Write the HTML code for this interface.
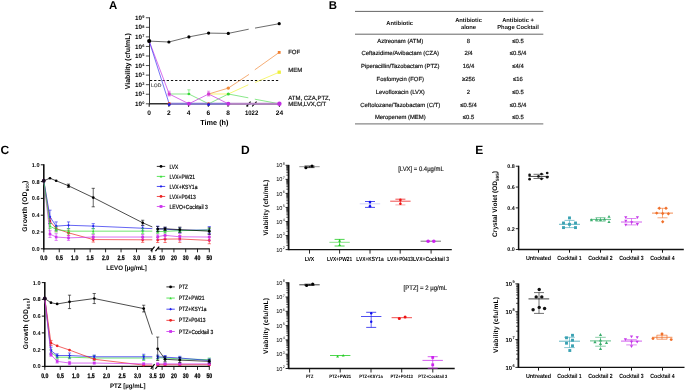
<!DOCTYPE html>
<html><head><meta charset="utf-8"><style>
html,body{margin:0;padding:0;background:#fff;}
svg{display:block;font-family:"Liberation Sans", sans-serif;will-change:transform;text-rendering:geometricPrecision;}
</style></head><body>
<svg width="685" height="390" viewBox="0 0 685 390">
<rect width="685" height="390" fill="#fff"/>
<text x="109.00" y="9.20" font-size="11.4" text-anchor="start" font-weight="bold" fill="#000" >A</text>
<line x1="149.50" y1="17.36" x2="149.50" y2="104.40" stroke="#222" stroke-width="0.9" />
<line x1="145.90" y1="103.80" x2="149.50" y2="103.80" stroke="#222" stroke-width="0.8" />
<text x="144.50" y="105.90" font-size="6.3" text-anchor="end" font-weight="bold">10<tspan font-size="3.91" dx="0.4" dy="-1.89">0</tspan></text>
<line x1="145.90" y1="94.24" x2="149.50" y2="94.24" stroke="#222" stroke-width="0.8" />
<text x="144.50" y="96.34" font-size="6.3" text-anchor="end" font-weight="bold">10<tspan font-size="3.91" dx="0.4" dy="-1.89">1</tspan></text>
<line x1="145.90" y1="84.68" x2="149.50" y2="84.68" stroke="#222" stroke-width="0.8" />
<text x="144.50" y="86.78" font-size="6.3" text-anchor="end" font-weight="bold">10<tspan font-size="3.91" dx="0.4" dy="-1.89">2</tspan></text>
<line x1="145.90" y1="75.12" x2="149.50" y2="75.12" stroke="#222" stroke-width="0.8" />
<text x="144.50" y="77.22" font-size="6.3" text-anchor="end" font-weight="bold">10<tspan font-size="3.91" dx="0.4" dy="-1.89">3</tspan></text>
<line x1="145.90" y1="65.56" x2="149.50" y2="65.56" stroke="#222" stroke-width="0.8" />
<text x="144.50" y="67.66" font-size="6.3" text-anchor="end" font-weight="bold">10<tspan font-size="3.91" dx="0.4" dy="-1.89">4</tspan></text>
<line x1="145.90" y1="56.00" x2="149.50" y2="56.00" stroke="#222" stroke-width="0.8" />
<text x="144.50" y="58.10" font-size="6.3" text-anchor="end" font-weight="bold">10<tspan font-size="3.91" dx="0.4" dy="-1.89">5</tspan></text>
<line x1="145.90" y1="46.44" x2="149.50" y2="46.44" stroke="#222" stroke-width="0.8" />
<text x="144.50" y="48.54" font-size="6.3" text-anchor="end" font-weight="bold">10<tspan font-size="3.91" dx="0.4" dy="-1.89">6</tspan></text>
<line x1="145.90" y1="36.88" x2="149.50" y2="36.88" stroke="#222" stroke-width="0.8" />
<text x="144.50" y="38.98" font-size="6.3" text-anchor="end" font-weight="bold">10<tspan font-size="3.91" dx="0.4" dy="-1.89">7</tspan></text>
<line x1="145.90" y1="27.32" x2="149.50" y2="27.32" stroke="#222" stroke-width="0.8" />
<text x="144.50" y="29.42" font-size="6.3" text-anchor="end" font-weight="bold">10<tspan font-size="3.91" dx="0.4" dy="-1.89">8</tspan></text>
<line x1="145.90" y1="17.76" x2="149.50" y2="17.76" stroke="#222" stroke-width="0.8" />
<text x="144.50" y="19.86" font-size="6.3" text-anchor="end" font-weight="bold">10<tspan font-size="3.91" dx="0.4" dy="-1.89">9</tspan></text>
<text transform="translate(129.6,61.2) rotate(-90)" font-size="7" font-weight="bold" text-anchor="middle">Viability (cfu/mL)</text>
<line x1="149.50" y1="103.80" x2="250.60" y2="103.80" stroke="#333" stroke-width="1.5" />
<line x1="252.20" y1="103.80" x2="279.60" y2="103.80" stroke="#333" stroke-width="1.5" />
<line x1="149.20" y1="103.80" x2="149.20" y2="106.80" stroke="#111" stroke-width="1.0" />
<text x="149.20" y="114.80" font-size="6.6" text-anchor="middle" font-weight="bold" fill="#000" >0</text>
<line x1="168.90" y1="103.80" x2="168.90" y2="106.80" stroke="#111" stroke-width="1.0" />
<text x="168.90" y="114.80" font-size="6.6" text-anchor="middle" font-weight="bold" fill="#000" >2</text>
<line x1="188.60" y1="103.80" x2="188.60" y2="106.80" stroke="#111" stroke-width="1.0" />
<text x="188.60" y="114.80" font-size="6.6" text-anchor="middle" font-weight="bold" fill="#000" >4</text>
<line x1="208.30" y1="103.80" x2="208.30" y2="106.80" stroke="#111" stroke-width="1.0" />
<text x="208.30" y="114.80" font-size="6.6" text-anchor="middle" font-weight="bold" fill="#000" >6</text>
<line x1="228.00" y1="103.80" x2="228.00" y2="106.80" stroke="#111" stroke-width="1.0" />
<text x="228.00" y="114.80" font-size="6.6" text-anchor="middle" font-weight="bold" fill="#000" >8</text>
<line x1="279.40" y1="103.80" x2="279.40" y2="106.80" stroke="#111" stroke-width="1.0" />
<text x="279.40" y="114.80" font-size="6.6" text-anchor="middle" font-weight="bold" fill="#000" >24</text>
<line x1="247.70" y1="103.80" x2="247.70" y2="106.80" stroke="#111" stroke-width="1.0" />
<text x="251.60" y="114.80" font-size="6.6" text-anchor="middle" font-weight="bold" fill="#000"  textLength="13.3" lengthAdjust="spacingAndGlyphs">1022</text>
<line x1="246.40" y1="106.30" x2="250.60" y2="101.70" stroke="#000" stroke-width="1.1" />
<line x1="252.20" y1="106.30" x2="256.60" y2="101.70" stroke="#000" stroke-width="1.1" />
<text x="214.40" y="124.80" font-size="7.3" text-anchor="middle" font-weight="bold" fill="#000" >Time (h)</text>
<line x1="149.90" y1="80.50" x2="279.00" y2="80.50" stroke="#111" stroke-width="1.0" stroke-dasharray="2.3,1.9"/>
<text x="151.00" y="86.60" font-size="5.0" text-anchor="start" font-weight="normal" fill="#555"  stroke="#555" stroke-width="0.18">LOD</text>
<polyline points="169.20,94.00 188.90,94.00 208.60,103.80 228.30,94.00 248.30,97.80" fill="none" stroke="#3ad83a" stroke-width="0.6" />
<polyline points="254.80,99.20 279.40,103.80" fill="none" stroke="#3ad83a" stroke-width="0.6" />
<polyline points="208.60,94.00 228.30,94.00 248.30,84.80" fill="none" stroke="#f2f23a" stroke-width="0.7" />
<polyline points="255.00,82.50 279.20,72.20" fill="none" stroke="#f2f23a" stroke-width="0.7" />
<polyline points="208.60,94.00 228.30,88.10 249.00,74.40" fill="none" stroke="#f08a3a" stroke-width="0.7" />
<polyline points="254.80,69.80 279.20,52.40" fill="none" stroke="#f08a3a" stroke-width="0.7" />
<line x1="169.20" y1="103.80" x2="228.30" y2="103.80" stroke="#8479d2" stroke-width="2.0" />
<line x1="228.30" y1="103.80" x2="279.40" y2="103.80" stroke="#b585c6" stroke-width="2.0" />
<polyline points="149.20,41.10 169.20,94.00 188.90,103.80 208.60,94.00 228.30,103.80" fill="none" stroke="#cc3ee6" stroke-width="0.75" />
<polyline points="149.20,41.10 169.20,103.80" fill="none" stroke="#3a3af0" stroke-width="0.7" />
<polyline points="149.20,41.10 168.90,42.00 188.90,36.90 208.60,33.10 228.30,33.40 248.70,29.20" fill="none" stroke="#111" stroke-width="0.62" />
<polyline points="255.00,28.10 279.20,23.70" fill="none" stroke="#111" stroke-width="0.62" />
<circle cx="168.90" cy="42.00" r="1.6" fill="#000"/>
<circle cx="188.90" cy="36.90" r="1.6" fill="#000"/>
<circle cx="208.60" cy="33.10" r="1.6" fill="#000"/>
<circle cx="228.30" cy="33.40" r="1.6" fill="#000"/>
<circle cx="279.20" cy="23.70" r="1.6" fill="#000"/>
<circle cx="149.20" cy="41.10" r="2.1" fill="#000"/>
<circle cx="169.20" cy="103.80" r="1.7" fill="#e04020"/>
<circle cx="169.20" cy="104.60" r="1.5" fill="#2020e0"/>
<rect x="167.70" y="92.50" width="3.0" height="3.0" fill="#d23cd2"/>
<line x1="169.20" y1="91.20" x2="169.20" y2="96.00" stroke="#d23cd2" stroke-width="0.5" />
<line x1="167.60" y1="91.20" x2="170.80" y2="91.20" stroke="#d23cd2" stroke-width="0.5" />
<line x1="167.60" y1="96.00" x2="170.80" y2="96.00" stroke="#d23cd2" stroke-width="0.5" />
<circle cx="188.90" cy="94.00" r="1.3" fill="#3ad83a"/>
<line x1="188.90" y1="89.80" x2="188.90" y2="94.00" stroke="#3ad83a" stroke-width="0.5" />
<line x1="187.30" y1="89.80" x2="190.50" y2="89.80" stroke="#3ad83a" stroke-width="0.5" />
<line x1="187.30" y1="94.00" x2="190.50" y2="94.00" stroke="#3ad83a" stroke-width="0.5" />
<circle cx="188.90" cy="103.80" r="2.0" fill="#c030e0"/>
<rect x="207.10" y="92.50" width="3.0" height="3.0" fill="#d23cd2"/>
<line x1="208.60" y1="91.20" x2="208.60" y2="96.00" stroke="#d23cd2" stroke-width="0.5" />
<line x1="207.00" y1="91.20" x2="210.20" y2="91.20" stroke="#d23cd2" stroke-width="0.5" />
<line x1="207.00" y1="96.00" x2="210.20" y2="96.00" stroke="#d23cd2" stroke-width="0.5" />
<circle cx="208.60" cy="103.80" r="1.6" fill="#e04020"/>
<circle cx="208.60" cy="104.60" r="1.5" fill="#2020e0"/>
<circle cx="228.30" cy="88.10" r="1.7" fill="#f08a3a"/>
<circle cx="228.30" cy="94.00" r="1.6" fill="#3ad83a"/>
<circle cx="228.30" cy="103.80" r="2.0" fill="#c030e0"/>
<circle cx="279.40" cy="103.80" r="2.2" fill="#c030e0"/>
<rect x="277.55" y="70.55" width="3.3" height="3.3" fill="#eef03a"/>
<rect x="277.80" y="51.00" width="2.8" height="2.8" fill="#f07f30"/>
<text x="288.20" y="54.20" font-size="6" text-anchor="start" font-weight="normal" fill="#111"  stroke="#111" stroke-width="0.18">FOF</text>
<text x="288.20" y="72.00" font-size="6" text-anchor="start" font-weight="normal" fill="#111"  stroke="#111" stroke-width="0.18">MEM</text>
<text x="288.20" y="99.80" font-size="6" text-anchor="start" font-weight="normal" fill="#111"  stroke="#111" stroke-width="0.18">ATM, CZA,PTZ,</text>
<text x="288.20" y="106.40" font-size="6" text-anchor="start" font-weight="normal" fill="#111"  stroke="#111" stroke-width="0.18">MEM,LVX,C/T</text>
<text x="328.80" y="9.20" font-size="11.4" text-anchor="start" font-weight="bold" fill="#000" >B</text>
<line x1="355.00" y1="11.40" x2="543.30" y2="11.40" stroke="#555" stroke-width="0.9" />
<line x1="355.00" y1="34.20" x2="543.30" y2="34.20" stroke="#555" stroke-width="0.9" />
<line x1="355.00" y1="123.80" x2="543.30" y2="123.80" stroke="#888" stroke-width="1.2" />
<text x="399.70" y="25.20" font-size="5.8" text-anchor="middle" font-weight="bold" fill="#111" >Antibiotic</text>
<text x="468.50" y="21.70" font-size="5.8" text-anchor="middle" font-weight="bold" fill="#111" >Antibiotic</text>
<text x="468.50" y="28.70" font-size="5.8" text-anchor="middle" font-weight="bold" fill="#111" >alone</text>
<text x="518.00" y="21.70" font-size="5.8" text-anchor="middle" font-weight="bold" fill="#111" >Antibiotic +</text>
<text x="518.00" y="28.70" font-size="5.8" text-anchor="middle" font-weight="bold" fill="#111" >Phage Cocktail</text>
<text x="400.30" y="43.00" font-size="5.9" text-anchor="middle" font-weight="normal" fill="#111"  stroke="#111" stroke-width="0.18">Aztreonam (ATM)</text>
<text x="468.50" y="43.00" font-size="5.9" text-anchor="middle" font-weight="normal" fill="#111"  stroke="#111" stroke-width="0.18">8</text>
<text x="518.00" y="43.00" font-size="5.9" text-anchor="middle" font-weight="normal" fill="#111"  stroke="#111" stroke-width="0.18">≤0.5</text>
<text x="400.30" y="55.40" font-size="5.9" text-anchor="middle" font-weight="normal" fill="#111"  stroke="#111" stroke-width="0.18">Ceftazidime/Avibactam (CZA)</text>
<text x="468.50" y="55.40" font-size="5.9" text-anchor="middle" font-weight="normal" fill="#111"  stroke="#111" stroke-width="0.18">2/4</text>
<text x="518.00" y="55.40" font-size="5.9" text-anchor="middle" font-weight="normal" fill="#111"  stroke="#111" stroke-width="0.18">≤0.5/4</text>
<text x="400.30" y="67.90" font-size="5.9" text-anchor="middle" font-weight="normal" fill="#111"  stroke="#111" stroke-width="0.18">Piperacillin/Tazobactam (PTZ)</text>
<text x="468.50" y="67.90" font-size="5.9" text-anchor="middle" font-weight="normal" fill="#111"  stroke="#111" stroke-width="0.18">16/4</text>
<text x="518.00" y="67.90" font-size="5.9" text-anchor="middle" font-weight="normal" fill="#111"  stroke="#111" stroke-width="0.18">≤4/4</text>
<text x="400.30" y="81.00" font-size="5.9" text-anchor="middle" font-weight="normal" fill="#111"  stroke="#111" stroke-width="0.18">Fosfomycin (FOF)</text>
<text x="468.50" y="81.00" font-size="5.9" text-anchor="middle" font-weight="normal" fill="#111"  stroke="#111" stroke-width="0.18">≥256</text>
<text x="518.00" y="81.00" font-size="5.9" text-anchor="middle" font-weight="normal" fill="#111"  stroke="#111" stroke-width="0.18">≤16</text>
<text x="400.30" y="93.70" font-size="5.9" text-anchor="middle" font-weight="normal" fill="#111"  stroke="#111" stroke-width="0.18">Levofloxacin (LVX)</text>
<text x="468.50" y="93.70" font-size="5.9" text-anchor="middle" font-weight="normal" fill="#111"  stroke="#111" stroke-width="0.18">2</text>
<text x="518.00" y="93.70" font-size="5.9" text-anchor="middle" font-weight="normal" fill="#111"  stroke="#111" stroke-width="0.18">≤0.5</text>
<text x="400.30" y="106.50" font-size="5.9" text-anchor="middle" font-weight="normal" fill="#111"  stroke="#111" stroke-width="0.18">Ceftolozane/Tazobactam (C/T)</text>
<text x="468.50" y="106.50" font-size="5.9" text-anchor="middle" font-weight="normal" fill="#111"  stroke="#111" stroke-width="0.18">≤0.5/4</text>
<text x="518.00" y="106.50" font-size="5.9" text-anchor="middle" font-weight="normal" fill="#111"  stroke="#111" stroke-width="0.18">≤0.5/4</text>
<text x="400.30" y="119.00" font-size="5.9" text-anchor="middle" font-weight="normal" fill="#111"  stroke="#111" stroke-width="0.18">Meropenem (MEM)</text>
<text x="468.50" y="119.00" font-size="5.9" text-anchor="middle" font-weight="normal" fill="#111"  stroke="#111" stroke-width="0.18">≤0.5</text>
<text x="518.00" y="119.00" font-size="5.9" text-anchor="middle" font-weight="normal" fill="#111"  stroke="#111" stroke-width="0.18">≤0.5</text>
<text x="0.60" y="153.80" font-size="12" text-anchor="start" font-weight="bold" fill="#000" >C</text>
<line x1="43.80" y1="164.30" x2="43.80" y2="249.60" stroke="#111" stroke-width="1.6" />
<line x1="40.80" y1="248.80" x2="43.80" y2="248.80" stroke="#111" stroke-width="1.0" />
<text x="39.60" y="250.80" font-size="5.6" text-anchor="end" font-weight="bold" fill="#000" >0.0</text>
<line x1="40.80" y1="232.00" x2="43.80" y2="232.00" stroke="#111" stroke-width="1.0" />
<text x="39.60" y="234.00" font-size="5.6" text-anchor="end" font-weight="bold" fill="#000" >0.2</text>
<line x1="40.80" y1="215.20" x2="43.80" y2="215.20" stroke="#111" stroke-width="1.0" />
<text x="39.60" y="217.20" font-size="5.6" text-anchor="end" font-weight="bold" fill="#000" >0.4</text>
<line x1="40.80" y1="198.40" x2="43.80" y2="198.40" stroke="#111" stroke-width="1.0" />
<text x="39.60" y="200.40" font-size="5.6" text-anchor="end" font-weight="bold" fill="#000" >0.6</text>
<line x1="40.80" y1="181.60" x2="43.80" y2="181.60" stroke="#111" stroke-width="1.0" />
<text x="39.60" y="183.60" font-size="5.6" text-anchor="end" font-weight="bold" fill="#000" >0.8</text>
<line x1="40.80" y1="164.80" x2="43.80" y2="164.80" stroke="#111" stroke-width="1.0" />
<text x="39.60" y="166.80" font-size="5.6" text-anchor="end" font-weight="bold" fill="#000" >1.0</text>
<text transform="translate(27.20,206.20) rotate(-90)" font-size="6.8" font-weight="bold" text-anchor="middle" textLength="51" lengthAdjust="spacing">Growth (OD<tspan font-size="4.6" dy="1.5">600</tspan><tspan dy="-1.5">)</tspan></text>
<line x1="43.80" y1="248.80" x2="152.30" y2="248.80" stroke="#111" stroke-width="1.3" />
<line x1="158.00" y1="248.80" x2="209.80" y2="248.80" stroke="#111" stroke-width="1.3" />
<line x1="43.80" y1="248.80" x2="43.80" y2="252.30" stroke="#111" stroke-width="0.9" />
<text x="43.80" y="259.90" font-size="6.6" text-anchor="middle" font-weight="bold" fill="#000" stroke="#000" stroke-width="0.25" textLength="7.2" lengthAdjust="spacingAndGlyphs">0.0</text>
<line x1="59.25" y1="248.80" x2="59.25" y2="252.30" stroke="#111" stroke-width="0.9" />
<text x="59.25" y="259.90" font-size="6.6" text-anchor="middle" font-weight="bold" fill="#000" stroke="#000" stroke-width="0.25" textLength="7.2" lengthAdjust="spacingAndGlyphs">0.5</text>
<line x1="74.70" y1="248.80" x2="74.70" y2="252.30" stroke="#111" stroke-width="0.9" />
<text x="74.70" y="259.90" font-size="6.6" text-anchor="middle" font-weight="bold" fill="#000" stroke="#000" stroke-width="0.25" textLength="7.2" lengthAdjust="spacingAndGlyphs">1.0</text>
<line x1="90.15" y1="248.80" x2="90.15" y2="252.30" stroke="#111" stroke-width="0.9" />
<text x="90.15" y="259.90" font-size="6.6" text-anchor="middle" font-weight="bold" fill="#000" stroke="#000" stroke-width="0.25" textLength="7.2" lengthAdjust="spacingAndGlyphs">1.5</text>
<line x1="105.60" y1="248.80" x2="105.60" y2="252.30" stroke="#111" stroke-width="0.9" />
<text x="105.60" y="259.90" font-size="6.6" text-anchor="middle" font-weight="bold" fill="#000" stroke="#000" stroke-width="0.25" textLength="7.2" lengthAdjust="spacingAndGlyphs">2.0</text>
<line x1="121.05" y1="248.80" x2="121.05" y2="252.30" stroke="#111" stroke-width="0.9" />
<text x="121.05" y="259.90" font-size="6.6" text-anchor="middle" font-weight="bold" fill="#000" stroke="#000" stroke-width="0.25" textLength="7.2" lengthAdjust="spacingAndGlyphs">2.5</text>
<line x1="136.50" y1="248.80" x2="136.50" y2="252.30" stroke="#111" stroke-width="0.9" />
<text x="136.50" y="259.90" font-size="6.6" text-anchor="middle" font-weight="bold" fill="#000" stroke="#000" stroke-width="0.25" textLength="7.2" lengthAdjust="spacingAndGlyphs">3.0</text>
<line x1="151.95" y1="248.80" x2="151.95" y2="252.30" stroke="#111" stroke-width="0.9" />
<text x="151.95" y="259.90" font-size="6.6" text-anchor="middle" font-weight="bold" fill="#000" stroke="#000" stroke-width="0.25" textLength="7.2" lengthAdjust="spacingAndGlyphs">3.5</text>
<line x1="162.10" y1="248.80" x2="162.10" y2="252.30" stroke="#111" stroke-width="0.9" />
<text x="162.10" y="259.90" font-size="6.6" text-anchor="middle" font-weight="bold" fill="#000" stroke="#000" stroke-width="0.25" textLength="5.8" lengthAdjust="spacingAndGlyphs">10</text>
<line x1="173.90" y1="248.80" x2="173.90" y2="252.30" stroke="#111" stroke-width="0.9" />
<text x="173.90" y="259.90" font-size="6.6" text-anchor="middle" font-weight="bold" fill="#000" stroke="#000" stroke-width="0.25" textLength="5.8" lengthAdjust="spacingAndGlyphs">20</text>
<line x1="185.70" y1="248.80" x2="185.70" y2="252.30" stroke="#111" stroke-width="0.9" />
<text x="185.70" y="259.90" font-size="6.6" text-anchor="middle" font-weight="bold" fill="#000" stroke="#000" stroke-width="0.25" textLength="5.8" lengthAdjust="spacingAndGlyphs">30</text>
<line x1="197.50" y1="248.80" x2="197.50" y2="252.30" stroke="#111" stroke-width="0.9" />
<text x="197.50" y="259.90" font-size="6.6" text-anchor="middle" font-weight="bold" fill="#000" stroke="#000" stroke-width="0.25" textLength="5.8" lengthAdjust="spacingAndGlyphs">40</text>
<line x1="209.30" y1="248.80" x2="209.30" y2="252.30" stroke="#111" stroke-width="0.9" />
<text x="209.30" y="259.90" font-size="6.6" text-anchor="middle" font-weight="bold" fill="#000" stroke="#000" stroke-width="0.25" textLength="5.8" lengthAdjust="spacingAndGlyphs">50</text>
<line x1="150.80" y1="251.20" x2="154.60" y2="246.60" stroke="#000" stroke-width="1.2" />
<line x1="155.40" y1="251.20" x2="159.20" y2="246.60" stroke="#000" stroke-width="1.2" />
<text x="126.60" y="270.10" font-size="6.5" text-anchor="middle" font-weight="bold" fill="#000"  textLength="40.6" lengthAdjust="spacingAndGlyphs">LEVO [µg/mL]</text>
<polyline points="43.80,180.76 49.98,221.08 56.16,228.64 68.52,232.84 93.24,239.56 142.68,239.81 152.30,239.81" fill="none" stroke="#ee2222" stroke-width="0.7" />
<polyline points="157.68,239.98 165.05,239.14 179.80,238.97 209.30,240.40" fill="none" stroke="#ee2222" stroke-width="0.7" />
<line x1="49.98" y1="218.56" x2="49.98" y2="223.60" stroke="#ee2222" stroke-width="0.6" />
<line x1="48.38" y1="218.56" x2="51.58" y2="218.56" stroke="#ee2222" stroke-width="0.6" />
<line x1="48.38" y1="223.60" x2="51.58" y2="223.60" stroke="#ee2222" stroke-width="0.6" />
<line x1="56.16" y1="226.12" x2="56.16" y2="231.16" stroke="#ee2222" stroke-width="0.6" />
<line x1="54.56" y1="226.12" x2="57.76" y2="226.12" stroke="#ee2222" stroke-width="0.6" />
<line x1="54.56" y1="231.16" x2="57.76" y2="231.16" stroke="#ee2222" stroke-width="0.6" />
<line x1="68.52" y1="230.32" x2="68.52" y2="235.36" stroke="#ee2222" stroke-width="0.6" />
<line x1="66.92" y1="230.32" x2="70.12" y2="230.32" stroke="#ee2222" stroke-width="0.6" />
<line x1="66.92" y1="235.36" x2="70.12" y2="235.36" stroke="#ee2222" stroke-width="0.6" />
<line x1="93.24" y1="237.04" x2="93.24" y2="242.08" stroke="#ee2222" stroke-width="0.6" />
<line x1="91.64" y1="237.04" x2="94.84" y2="237.04" stroke="#ee2222" stroke-width="0.6" />
<line x1="91.64" y1="242.08" x2="94.84" y2="242.08" stroke="#ee2222" stroke-width="0.6" />
<line x1="142.68" y1="237.29" x2="142.68" y2="242.33" stroke="#ee2222" stroke-width="0.6" />
<line x1="141.08" y1="237.29" x2="144.28" y2="237.29" stroke="#ee2222" stroke-width="0.6" />
<line x1="141.08" y1="242.33" x2="144.28" y2="242.33" stroke="#ee2222" stroke-width="0.6" />
<line x1="157.68" y1="237.46" x2="157.68" y2="242.50" stroke="#ee2222" stroke-width="0.6" />
<line x1="156.08" y1="237.46" x2="159.28" y2="237.46" stroke="#ee2222" stroke-width="0.6" />
<line x1="156.08" y1="242.50" x2="159.28" y2="242.50" stroke="#ee2222" stroke-width="0.6" />
<line x1="165.05" y1="235.78" x2="165.05" y2="242.50" stroke="#ee2222" stroke-width="0.6" />
<line x1="163.45" y1="235.78" x2="166.65" y2="235.78" stroke="#ee2222" stroke-width="0.6" />
<line x1="163.45" y1="242.50" x2="166.65" y2="242.50" stroke="#ee2222" stroke-width="0.6" />
<line x1="179.80" y1="235.61" x2="179.80" y2="242.33" stroke="#ee2222" stroke-width="0.6" />
<line x1="178.20" y1="235.61" x2="181.40" y2="235.61" stroke="#ee2222" stroke-width="0.6" />
<line x1="178.20" y1="242.33" x2="181.40" y2="242.33" stroke="#ee2222" stroke-width="0.6" />
<line x1="209.30" y1="237.04" x2="209.30" y2="243.76" stroke="#ee2222" stroke-width="0.6" />
<line x1="207.70" y1="237.04" x2="210.90" y2="237.04" stroke="#ee2222" stroke-width="0.6" />
<line x1="207.70" y1="243.76" x2="210.90" y2="243.76" stroke="#ee2222" stroke-width="0.6" />
<circle cx="43.80" cy="180.76" r="1.35" fill="#ee2222"/>
<circle cx="49.98" cy="221.08" r="1.35" fill="#ee2222"/>
<circle cx="56.16" cy="228.64" r="1.35" fill="#ee2222"/>
<circle cx="68.52" cy="232.84" r="1.35" fill="#ee2222"/>
<circle cx="93.24" cy="239.56" r="1.35" fill="#ee2222"/>
<circle cx="142.68" cy="239.81" r="1.35" fill="#ee2222"/>
<circle cx="157.68" cy="239.98" r="1.35" fill="#ee2222"/>
<circle cx="165.05" cy="239.14" r="1.35" fill="#ee2222"/>
<circle cx="179.80" cy="238.97" r="1.35" fill="#ee2222"/>
<circle cx="209.30" cy="240.40" r="1.35" fill="#ee2222"/>
<polyline points="43.80,180.76 49.98,234.10 56.16,237.04 68.52,237.88 93.24,237.04 142.68,237.04 152.30,237.04" fill="none" stroke="#cc33ee" stroke-width="0.7" />
<polyline points="157.68,236.62 165.05,235.36 179.80,236.79 209.30,237.04" fill="none" stroke="#cc33ee" stroke-width="0.7" />
<line x1="49.98" y1="230.74" x2="49.98" y2="237.46" stroke="#cc33ee" stroke-width="0.6" />
<line x1="48.38" y1="230.74" x2="51.58" y2="230.74" stroke="#cc33ee" stroke-width="0.6" />
<line x1="48.38" y1="237.46" x2="51.58" y2="237.46" stroke="#cc33ee" stroke-width="0.6" />
<line x1="56.16" y1="233.68" x2="56.16" y2="240.40" stroke="#cc33ee" stroke-width="0.6" />
<line x1="54.56" y1="233.68" x2="57.76" y2="233.68" stroke="#cc33ee" stroke-width="0.6" />
<line x1="54.56" y1="240.40" x2="57.76" y2="240.40" stroke="#cc33ee" stroke-width="0.6" />
<line x1="68.52" y1="235.36" x2="68.52" y2="240.40" stroke="#cc33ee" stroke-width="0.6" />
<line x1="66.92" y1="235.36" x2="70.12" y2="235.36" stroke="#cc33ee" stroke-width="0.6" />
<line x1="66.92" y1="240.40" x2="70.12" y2="240.40" stroke="#cc33ee" stroke-width="0.6" />
<line x1="93.24" y1="234.52" x2="93.24" y2="239.56" stroke="#cc33ee" stroke-width="0.6" />
<line x1="91.64" y1="234.52" x2="94.84" y2="234.52" stroke="#cc33ee" stroke-width="0.6" />
<line x1="91.64" y1="239.56" x2="94.84" y2="239.56" stroke="#cc33ee" stroke-width="0.6" />
<line x1="142.68" y1="234.52" x2="142.68" y2="239.56" stroke="#cc33ee" stroke-width="0.6" />
<line x1="141.08" y1="234.52" x2="144.28" y2="234.52" stroke="#cc33ee" stroke-width="0.6" />
<line x1="141.08" y1="239.56" x2="144.28" y2="239.56" stroke="#cc33ee" stroke-width="0.6" />
<line x1="157.68" y1="234.10" x2="157.68" y2="239.14" stroke="#cc33ee" stroke-width="0.6" />
<line x1="156.08" y1="234.10" x2="159.28" y2="234.10" stroke="#cc33ee" stroke-width="0.6" />
<line x1="156.08" y1="239.14" x2="159.28" y2="239.14" stroke="#cc33ee" stroke-width="0.6" />
<line x1="165.05" y1="232.00" x2="165.05" y2="238.72" stroke="#cc33ee" stroke-width="0.6" />
<line x1="163.45" y1="232.00" x2="166.65" y2="232.00" stroke="#cc33ee" stroke-width="0.6" />
<line x1="163.45" y1="238.72" x2="166.65" y2="238.72" stroke="#cc33ee" stroke-width="0.6" />
<line x1="179.80" y1="233.43" x2="179.80" y2="240.15" stroke="#cc33ee" stroke-width="0.6" />
<line x1="178.20" y1="233.43" x2="181.40" y2="233.43" stroke="#cc33ee" stroke-width="0.6" />
<line x1="178.20" y1="240.15" x2="181.40" y2="240.15" stroke="#cc33ee" stroke-width="0.6" />
<line x1="209.30" y1="233.68" x2="209.30" y2="240.40" stroke="#cc33ee" stroke-width="0.6" />
<line x1="207.70" y1="233.68" x2="210.90" y2="233.68" stroke="#cc33ee" stroke-width="0.6" />
<line x1="207.70" y1="240.40" x2="210.90" y2="240.40" stroke="#cc33ee" stroke-width="0.6" />
<rect x="42.50" y="179.46" width="2.6" height="2.6" fill="#cc33ee"/>
<rect x="48.68" y="232.80" width="2.6" height="2.6" fill="#cc33ee"/>
<rect x="54.86" y="235.74" width="2.6" height="2.6" fill="#cc33ee"/>
<rect x="67.22" y="236.58" width="2.6" height="2.6" fill="#cc33ee"/>
<rect x="91.94" y="235.74" width="2.6" height="2.6" fill="#cc33ee"/>
<rect x="141.38" y="235.74" width="2.6" height="2.6" fill="#cc33ee"/>
<rect x="156.38" y="235.32" width="2.6" height="2.6" fill="#cc33ee"/>
<rect x="163.75" y="234.06" width="2.6" height="2.6" fill="#cc33ee"/>
<rect x="178.50" y="235.49" width="2.6" height="2.6" fill="#cc33ee"/>
<rect x="208.00" y="235.74" width="2.6" height="2.6" fill="#cc33ee"/>
<polyline points="43.80,180.76 49.98,216.88 56.16,226.12 68.52,225.28 93.24,226.12 142.68,228.22 152.30,228.64" fill="none" stroke="#2222ee" stroke-width="0.7" />
<polyline points="157.68,228.64 165.05,229.06 179.80,230.32 209.30,229.90" fill="none" stroke="#2222ee" stroke-width="0.7" />
<line x1="49.98" y1="210.16" x2="49.98" y2="223.60" stroke="#2222ee" stroke-width="0.6" />
<line x1="48.38" y1="210.16" x2="51.58" y2="210.16" stroke="#2222ee" stroke-width="0.6" />
<line x1="48.38" y1="223.60" x2="51.58" y2="223.60" stroke="#2222ee" stroke-width="0.6" />
<line x1="56.16" y1="221.92" x2="56.16" y2="230.32" stroke="#2222ee" stroke-width="0.6" />
<line x1="54.56" y1="221.92" x2="57.76" y2="221.92" stroke="#2222ee" stroke-width="0.6" />
<line x1="54.56" y1="230.32" x2="57.76" y2="230.32" stroke="#2222ee" stroke-width="0.6" />
<line x1="68.52" y1="221.92" x2="68.52" y2="228.64" stroke="#2222ee" stroke-width="0.6" />
<line x1="66.92" y1="221.92" x2="70.12" y2="221.92" stroke="#2222ee" stroke-width="0.6" />
<line x1="66.92" y1="228.64" x2="70.12" y2="228.64" stroke="#2222ee" stroke-width="0.6" />
<line x1="93.24" y1="223.60" x2="93.24" y2="228.64" stroke="#2222ee" stroke-width="0.6" />
<line x1="91.64" y1="223.60" x2="94.84" y2="223.60" stroke="#2222ee" stroke-width="0.6" />
<line x1="91.64" y1="228.64" x2="94.84" y2="228.64" stroke="#2222ee" stroke-width="0.6" />
<line x1="142.68" y1="225.70" x2="142.68" y2="230.74" stroke="#2222ee" stroke-width="0.6" />
<line x1="141.08" y1="225.70" x2="144.28" y2="225.70" stroke="#2222ee" stroke-width="0.6" />
<line x1="141.08" y1="230.74" x2="144.28" y2="230.74" stroke="#2222ee" stroke-width="0.6" />
<line x1="157.68" y1="226.12" x2="157.68" y2="231.16" stroke="#2222ee" stroke-width="0.6" />
<line x1="156.08" y1="226.12" x2="159.28" y2="226.12" stroke="#2222ee" stroke-width="0.6" />
<line x1="156.08" y1="231.16" x2="159.28" y2="231.16" stroke="#2222ee" stroke-width="0.6" />
<line x1="165.05" y1="227.38" x2="165.05" y2="230.74" stroke="#2222ee" stroke-width="0.6" />
<line x1="163.45" y1="227.38" x2="166.65" y2="227.38" stroke="#2222ee" stroke-width="0.6" />
<line x1="163.45" y1="230.74" x2="166.65" y2="230.74" stroke="#2222ee" stroke-width="0.6" />
<line x1="179.80" y1="227.80" x2="179.80" y2="232.84" stroke="#2222ee" stroke-width="0.6" />
<line x1="178.20" y1="227.80" x2="181.40" y2="227.80" stroke="#2222ee" stroke-width="0.6" />
<line x1="178.20" y1="232.84" x2="181.40" y2="232.84" stroke="#2222ee" stroke-width="0.6" />
<line x1="209.30" y1="226.54" x2="209.30" y2="233.26" stroke="#2222ee" stroke-width="0.6" />
<line x1="207.70" y1="226.54" x2="210.90" y2="226.54" stroke="#2222ee" stroke-width="0.6" />
<line x1="207.70" y1="233.26" x2="210.90" y2="233.26" stroke="#2222ee" stroke-width="0.6" />
<polygon points="43.80,179.36 45.20,180.76 43.80,182.16 42.40,180.76" fill="#2222ee"/>
<polygon points="49.98,215.48 51.38,216.88 49.98,218.28 48.58,216.88" fill="#2222ee"/>
<polygon points="56.16,224.72 57.56,226.12 56.16,227.52 54.76,226.12" fill="#2222ee"/>
<polygon points="68.52,223.88 69.92,225.28 68.52,226.68 67.12,225.28" fill="#2222ee"/>
<polygon points="93.24,224.72 94.64,226.12 93.24,227.52 91.84,226.12" fill="#2222ee"/>
<polygon points="142.68,226.82 144.08,228.22 142.68,229.62 141.28,228.22" fill="#2222ee"/>
<polygon points="157.68,227.24 159.08,228.64 157.68,230.04 156.28,228.64" fill="#2222ee"/>
<polygon points="165.05,227.66 166.45,229.06 165.05,230.46 163.65,229.06" fill="#2222ee"/>
<polygon points="179.80,228.92 181.20,230.32 179.80,231.72 178.40,230.32" fill="#2222ee"/>
<polygon points="209.30,228.50 210.70,229.90 209.30,231.30 207.90,229.90" fill="#2222ee"/>
<polyline points="43.80,180.76 49.98,226.12 56.16,229.48 68.52,231.16 93.24,231.16 142.68,231.16 152.30,231.16" fill="none" stroke="#33dd33" stroke-width="0.7" />
<polyline points="157.68,231.58 165.05,231.41 179.80,230.66 209.30,230.07" fill="none" stroke="#33dd33" stroke-width="0.7" />
<line x1="49.98" y1="223.60" x2="49.98" y2="228.64" stroke="#33dd33" stroke-width="0.6" />
<line x1="48.38" y1="223.60" x2="51.58" y2="223.60" stroke="#33dd33" stroke-width="0.6" />
<line x1="48.38" y1="228.64" x2="51.58" y2="228.64" stroke="#33dd33" stroke-width="0.6" />
<line x1="56.16" y1="226.96" x2="56.16" y2="232.00" stroke="#33dd33" stroke-width="0.6" />
<line x1="54.56" y1="226.96" x2="57.76" y2="226.96" stroke="#33dd33" stroke-width="0.6" />
<line x1="54.56" y1="232.00" x2="57.76" y2="232.00" stroke="#33dd33" stroke-width="0.6" />
<line x1="68.52" y1="228.64" x2="68.52" y2="233.68" stroke="#33dd33" stroke-width="0.6" />
<line x1="66.92" y1="228.64" x2="70.12" y2="228.64" stroke="#33dd33" stroke-width="0.6" />
<line x1="66.92" y1="233.68" x2="70.12" y2="233.68" stroke="#33dd33" stroke-width="0.6" />
<line x1="93.24" y1="228.64" x2="93.24" y2="233.68" stroke="#33dd33" stroke-width="0.6" />
<line x1="91.64" y1="228.64" x2="94.84" y2="228.64" stroke="#33dd33" stroke-width="0.6" />
<line x1="91.64" y1="233.68" x2="94.84" y2="233.68" stroke="#33dd33" stroke-width="0.6" />
<line x1="142.68" y1="228.64" x2="142.68" y2="233.68" stroke="#33dd33" stroke-width="0.6" />
<line x1="141.08" y1="228.64" x2="144.28" y2="228.64" stroke="#33dd33" stroke-width="0.6" />
<line x1="141.08" y1="233.68" x2="144.28" y2="233.68" stroke="#33dd33" stroke-width="0.6" />
<line x1="157.68" y1="229.90" x2="157.68" y2="233.26" stroke="#33dd33" stroke-width="0.6" />
<line x1="156.08" y1="229.90" x2="159.28" y2="229.90" stroke="#33dd33" stroke-width="0.6" />
<line x1="156.08" y1="233.26" x2="159.28" y2="233.26" stroke="#33dd33" stroke-width="0.6" />
<line x1="165.05" y1="229.73" x2="165.05" y2="233.09" stroke="#33dd33" stroke-width="0.6" />
<line x1="163.45" y1="229.73" x2="166.65" y2="229.73" stroke="#33dd33" stroke-width="0.6" />
<line x1="163.45" y1="233.09" x2="166.65" y2="233.09" stroke="#33dd33" stroke-width="0.6" />
<line x1="179.80" y1="228.98" x2="179.80" y2="232.34" stroke="#33dd33" stroke-width="0.6" />
<line x1="178.20" y1="228.98" x2="181.40" y2="228.98" stroke="#33dd33" stroke-width="0.6" />
<line x1="178.20" y1="232.34" x2="181.40" y2="232.34" stroke="#33dd33" stroke-width="0.6" />
<line x1="209.30" y1="228.39" x2="209.30" y2="231.75" stroke="#33dd33" stroke-width="0.6" />
<line x1="207.70" y1="228.39" x2="210.90" y2="228.39" stroke="#33dd33" stroke-width="0.6" />
<line x1="207.70" y1="231.75" x2="210.90" y2="231.75" stroke="#33dd33" stroke-width="0.6" />
<polygon points="43.80,179.59 42.50,181.93 45.10,181.93" fill="#33dd33"/>
<polygon points="49.98,224.95 48.68,227.29 51.28,227.29" fill="#33dd33"/>
<polygon points="56.16,228.31 54.86,230.65 57.46,230.65" fill="#33dd33"/>
<polygon points="68.52,229.99 67.22,232.33 69.82,232.33" fill="#33dd33"/>
<polygon points="93.24,229.99 91.94,232.33 94.54,232.33" fill="#33dd33"/>
<polygon points="142.68,229.99 141.38,232.33 143.98,232.33" fill="#33dd33"/>
<polygon points="157.68,230.41 156.38,232.75 158.98,232.75" fill="#33dd33"/>
<polygon points="165.05,230.24 163.75,232.58 166.35,232.58" fill="#33dd33"/>
<polygon points="179.80,229.49 178.50,231.83 181.10,231.83" fill="#33dd33"/>
<polygon points="209.30,228.90 208.00,231.24 210.60,231.24" fill="#33dd33"/>
<polyline points="43.80,180.76 49.98,178.24 56.16,180.76 68.52,185.80 93.24,197.56 142.68,222.76 152.30,226.96" fill="none" stroke="#000" stroke-width="0.7" />
<polyline points="157.68,229.06 165.05,228.81 179.80,229.65 209.30,231.16" fill="none" stroke="#000" stroke-width="0.7" />
<line x1="68.52" y1="184.12" x2="68.52" y2="187.48" stroke="#000" stroke-width="0.6" />
<line x1="66.92" y1="184.12" x2="70.12" y2="184.12" stroke="#000" stroke-width="0.6" />
<line x1="66.92" y1="187.48" x2="70.12" y2="187.48" stroke="#000" stroke-width="0.6" />
<line x1="93.24" y1="188.32" x2="93.24" y2="206.80" stroke="#000" stroke-width="0.6" />
<line x1="91.64" y1="188.32" x2="94.84" y2="188.32" stroke="#000" stroke-width="0.6" />
<line x1="91.64" y1="206.80" x2="94.84" y2="206.80" stroke="#000" stroke-width="0.6" />
<line x1="142.68" y1="220.24" x2="142.68" y2="225.28" stroke="#000" stroke-width="0.6" />
<line x1="141.08" y1="220.24" x2="144.28" y2="220.24" stroke="#000" stroke-width="0.6" />
<line x1="141.08" y1="225.28" x2="144.28" y2="225.28" stroke="#000" stroke-width="0.6" />
<line x1="157.68" y1="226.54" x2="157.68" y2="231.58" stroke="#000" stroke-width="0.6" />
<line x1="156.08" y1="226.54" x2="159.28" y2="226.54" stroke="#000" stroke-width="0.6" />
<line x1="156.08" y1="231.58" x2="159.28" y2="231.58" stroke="#000" stroke-width="0.6" />
<line x1="165.05" y1="227.13" x2="165.05" y2="230.49" stroke="#000" stroke-width="0.6" />
<line x1="163.45" y1="227.13" x2="166.65" y2="227.13" stroke="#000" stroke-width="0.6" />
<line x1="163.45" y1="230.49" x2="166.65" y2="230.49" stroke="#000" stroke-width="0.6" />
<line x1="179.80" y1="227.13" x2="179.80" y2="232.17" stroke="#000" stroke-width="0.6" />
<line x1="178.20" y1="227.13" x2="181.40" y2="227.13" stroke="#000" stroke-width="0.6" />
<line x1="178.20" y1="232.17" x2="181.40" y2="232.17" stroke="#000" stroke-width="0.6" />
<line x1="209.30" y1="227.80" x2="209.30" y2="234.52" stroke="#000" stroke-width="0.6" />
<line x1="207.70" y1="227.80" x2="210.90" y2="227.80" stroke="#000" stroke-width="0.6" />
<line x1="207.70" y1="234.52" x2="210.90" y2="234.52" stroke="#000" stroke-width="0.6" />
<circle cx="43.80" cy="180.76" r="1.35" fill="#000"/>
<circle cx="49.98" cy="178.24" r="1.35" fill="#000"/>
<circle cx="56.16" cy="180.76" r="1.35" fill="#000"/>
<circle cx="68.52" cy="185.80" r="1.35" fill="#000"/>
<circle cx="93.24" cy="197.56" r="1.35" fill="#000"/>
<circle cx="142.68" cy="222.76" r="1.35" fill="#000"/>
<circle cx="157.68" cy="229.06" r="1.35" fill="#000"/>
<circle cx="165.05" cy="228.81" r="1.35" fill="#000"/>
<circle cx="179.80" cy="229.65" r="1.35" fill="#000"/>
<circle cx="209.30" cy="231.16" r="1.35" fill="#000"/>
<circle cx="43.80" cy="180.76" r="1.9" fill="#1a0a22"/>
<line x1="156.80" y1="166.40" x2="165.20" y2="166.40" stroke="#000" stroke-width="0.8" />
<circle cx="161.00" cy="166.40" r="1.4" fill="#000"/>
<text x="169.50" y="168.50" font-size="6.1" text-anchor="start" font-weight="normal" fill="#000"  textLength="8.9" lengthAdjust="spacingAndGlyphs" stroke="#000" stroke-width="0.18">LVX</text>
<line x1="156.80" y1="176.42" x2="165.20" y2="176.42" stroke="#33dd33" stroke-width="0.8" />
<polygon points="161.00,175.25 159.70,177.59 162.30,177.59" fill="#33dd33"/>
<text x="169.50" y="178.52" font-size="6.1" text-anchor="start" font-weight="normal" fill="#000"  textLength="25.6" lengthAdjust="spacingAndGlyphs" stroke="#000" stroke-width="0.18">LVX+PW21</text>
<line x1="156.80" y1="186.44" x2="165.20" y2="186.44" stroke="#2222ee" stroke-width="0.8" />
<polygon points="161.00,185.04 162.40,186.44 161.00,187.84 159.60,186.44" fill="#2222ee"/>
<text x="169.50" y="188.54" font-size="6.1" text-anchor="start" font-weight="normal" fill="#000"  textLength="28.0" lengthAdjust="spacingAndGlyphs" stroke="#000" stroke-width="0.18">LVX+KSY1a</text>
<line x1="156.80" y1="196.46" x2="165.20" y2="196.46" stroke="#ee2222" stroke-width="0.8" />
<circle cx="161.00" cy="196.46" r="1.4" fill="#ee2222"/>
<text x="169.50" y="198.56" font-size="6.1" text-anchor="start" font-weight="normal" fill="#000"  textLength="26.3" lengthAdjust="spacingAndGlyphs" stroke="#000" stroke-width="0.18">LVX+P0413</text>
<line x1="156.80" y1="206.48" x2="165.20" y2="206.48" stroke="#cc33ee" stroke-width="0.8" />
<rect x="159.60" y="205.08" width="2.8" height="2.8" fill="#cc33ee"/>
<text x="169.50" y="208.58" font-size="6.1" text-anchor="start" font-weight="normal" fill="#000"  textLength="38.3" lengthAdjust="spacingAndGlyphs" stroke="#000" stroke-width="0.18">LEVO+Cocktail 3</text>
<line x1="44.80" y1="282.10" x2="44.80" y2="367.20" stroke="#111" stroke-width="1.6" />
<line x1="41.80" y1="366.40" x2="44.80" y2="366.40" stroke="#111" stroke-width="1.0" />
<text x="40.60" y="368.40" font-size="5.6" text-anchor="end" font-weight="bold" fill="#000" >0.0</text>
<line x1="41.80" y1="349.64" x2="44.80" y2="349.64" stroke="#111" stroke-width="1.0" />
<text x="40.60" y="351.64" font-size="5.6" text-anchor="end" font-weight="bold" fill="#000" >0.2</text>
<line x1="41.80" y1="332.88" x2="44.80" y2="332.88" stroke="#111" stroke-width="1.0" />
<text x="40.60" y="334.88" font-size="5.6" text-anchor="end" font-weight="bold" fill="#000" >0.4</text>
<line x1="41.80" y1="316.12" x2="44.80" y2="316.12" stroke="#111" stroke-width="1.0" />
<text x="40.60" y="318.12" font-size="5.6" text-anchor="end" font-weight="bold" fill="#000" >0.6</text>
<line x1="41.80" y1="299.36" x2="44.80" y2="299.36" stroke="#111" stroke-width="1.0" />
<text x="40.60" y="301.36" font-size="5.6" text-anchor="end" font-weight="bold" fill="#000" >0.8</text>
<line x1="41.80" y1="282.60" x2="44.80" y2="282.60" stroke="#111" stroke-width="1.0" />
<text x="40.60" y="284.60" font-size="5.6" text-anchor="end" font-weight="bold" fill="#000" >1.0</text>
<text transform="translate(28.20,323.80) rotate(-90)" font-size="6.8" font-weight="bold" text-anchor="middle" textLength="51" lengthAdjust="spacing">Growth (OD<tspan font-size="4.6" dy="1.5">600</tspan><tspan dy="-1.5">)</tspan></text>
<line x1="44.80" y1="366.40" x2="152.30" y2="366.40" stroke="#111" stroke-width="1.3" />
<line x1="158.00" y1="366.40" x2="209.80" y2="366.40" stroke="#111" stroke-width="1.3" />
<line x1="44.80" y1="366.40" x2="44.80" y2="369.90" stroke="#111" stroke-width="0.9" />
<text x="44.80" y="377.50" font-size="6.6" text-anchor="middle" font-weight="bold" fill="#000" stroke="#000" stroke-width="0.25" textLength="7.2" lengthAdjust="spacingAndGlyphs">0.0</text>
<line x1="60.25" y1="366.40" x2="60.25" y2="369.90" stroke="#111" stroke-width="0.9" />
<text x="60.25" y="377.50" font-size="6.6" text-anchor="middle" font-weight="bold" fill="#000" stroke="#000" stroke-width="0.25" textLength="7.2" lengthAdjust="spacingAndGlyphs">0.5</text>
<line x1="75.70" y1="366.40" x2="75.70" y2="369.90" stroke="#111" stroke-width="0.9" />
<text x="75.70" y="377.50" font-size="6.6" text-anchor="middle" font-weight="bold" fill="#000" stroke="#000" stroke-width="0.25" textLength="7.2" lengthAdjust="spacingAndGlyphs">1.0</text>
<line x1="91.15" y1="366.40" x2="91.15" y2="369.90" stroke="#111" stroke-width="0.9" />
<text x="91.15" y="377.50" font-size="6.6" text-anchor="middle" font-weight="bold" fill="#000" stroke="#000" stroke-width="0.25" textLength="7.2" lengthAdjust="spacingAndGlyphs">1.5</text>
<line x1="106.60" y1="366.40" x2="106.60" y2="369.90" stroke="#111" stroke-width="0.9" />
<text x="106.60" y="377.50" font-size="6.6" text-anchor="middle" font-weight="bold" fill="#000" stroke="#000" stroke-width="0.25" textLength="7.2" lengthAdjust="spacingAndGlyphs">2.0</text>
<line x1="122.05" y1="366.40" x2="122.05" y2="369.90" stroke="#111" stroke-width="0.9" />
<text x="122.05" y="377.50" font-size="6.6" text-anchor="middle" font-weight="bold" fill="#000" stroke="#000" stroke-width="0.25" textLength="7.2" lengthAdjust="spacingAndGlyphs">2.5</text>
<line x1="137.50" y1="366.40" x2="137.50" y2="369.90" stroke="#111" stroke-width="0.9" />
<text x="137.50" y="377.50" font-size="6.6" text-anchor="middle" font-weight="bold" fill="#000" stroke="#000" stroke-width="0.25" textLength="7.2" lengthAdjust="spacingAndGlyphs">3.0</text>
<line x1="152.95" y1="366.40" x2="152.95" y2="369.90" stroke="#111" stroke-width="0.9" />
<text x="152.95" y="377.50" font-size="6.6" text-anchor="middle" font-weight="bold" fill="#000" stroke="#000" stroke-width="0.25" textLength="7.2" lengthAdjust="spacingAndGlyphs">3.5</text>
<line x1="162.10" y1="366.40" x2="162.10" y2="369.90" stroke="#111" stroke-width="0.9" />
<text x="162.10" y="377.50" font-size="6.6" text-anchor="middle" font-weight="bold" fill="#000" stroke="#000" stroke-width="0.25" textLength="5.8" lengthAdjust="spacingAndGlyphs">10</text>
<line x1="173.90" y1="366.40" x2="173.90" y2="369.90" stroke="#111" stroke-width="0.9" />
<text x="173.90" y="377.50" font-size="6.6" text-anchor="middle" font-weight="bold" fill="#000" stroke="#000" stroke-width="0.25" textLength="5.8" lengthAdjust="spacingAndGlyphs">20</text>
<line x1="185.70" y1="366.40" x2="185.70" y2="369.90" stroke="#111" stroke-width="0.9" />
<text x="185.70" y="377.50" font-size="6.6" text-anchor="middle" font-weight="bold" fill="#000" stroke="#000" stroke-width="0.25" textLength="5.8" lengthAdjust="spacingAndGlyphs">30</text>
<line x1="197.50" y1="366.40" x2="197.50" y2="369.90" stroke="#111" stroke-width="0.9" />
<text x="197.50" y="377.50" font-size="6.6" text-anchor="middle" font-weight="bold" fill="#000" stroke="#000" stroke-width="0.25" textLength="5.8" lengthAdjust="spacingAndGlyphs">40</text>
<line x1="209.30" y1="366.40" x2="209.30" y2="369.90" stroke="#111" stroke-width="0.9" />
<text x="209.30" y="377.50" font-size="6.6" text-anchor="middle" font-weight="bold" fill="#000" stroke="#000" stroke-width="0.25" textLength="5.8" lengthAdjust="spacingAndGlyphs">50</text>
<line x1="150.80" y1="368.80" x2="154.60" y2="364.20" stroke="#000" stroke-width="1.2" />
<line x1="155.40" y1="368.80" x2="159.20" y2="364.20" stroke="#000" stroke-width="1.2" />
<text x="127.70" y="387.70" font-size="6.5" text-anchor="middle" font-weight="bold" fill="#000"  textLength="35.6" lengthAdjust="spacingAndGlyphs">PTZ [µg/mL]</text>
<polyline points="44.80,298.52 50.98,352.15 57.16,357.18 69.52,357.18 94.24,358.02 143.68,358.02 152.30,358.02" fill="none" stroke="#33dd33" stroke-width="0.7" />
<polyline points="157.68,357.60 165.05,358.02 179.80,358.86 209.30,359.70" fill="none" stroke="#33dd33" stroke-width="0.7" />
<line x1="50.98" y1="349.64" x2="50.98" y2="354.67" stroke="#33dd33" stroke-width="0.6" />
<line x1="49.38" y1="349.64" x2="52.58" y2="349.64" stroke="#33dd33" stroke-width="0.6" />
<line x1="49.38" y1="354.67" x2="52.58" y2="354.67" stroke="#33dd33" stroke-width="0.6" />
<line x1="57.16" y1="355.51" x2="57.16" y2="358.86" stroke="#33dd33" stroke-width="0.6" />
<line x1="55.56" y1="355.51" x2="58.76" y2="355.51" stroke="#33dd33" stroke-width="0.6" />
<line x1="55.56" y1="358.86" x2="58.76" y2="358.86" stroke="#33dd33" stroke-width="0.6" />
<line x1="69.52" y1="355.51" x2="69.52" y2="358.86" stroke="#33dd33" stroke-width="0.6" />
<line x1="67.92" y1="355.51" x2="71.12" y2="355.51" stroke="#33dd33" stroke-width="0.6" />
<line x1="67.92" y1="358.86" x2="71.12" y2="358.86" stroke="#33dd33" stroke-width="0.6" />
<line x1="94.24" y1="355.51" x2="94.24" y2="360.53" stroke="#33dd33" stroke-width="0.6" />
<line x1="92.64" y1="355.51" x2="95.84" y2="355.51" stroke="#33dd33" stroke-width="0.6" />
<line x1="92.64" y1="360.53" x2="95.84" y2="360.53" stroke="#33dd33" stroke-width="0.6" />
<line x1="143.68" y1="355.51" x2="143.68" y2="360.53" stroke="#33dd33" stroke-width="0.6" />
<line x1="142.08" y1="355.51" x2="145.28" y2="355.51" stroke="#33dd33" stroke-width="0.6" />
<line x1="142.08" y1="360.53" x2="145.28" y2="360.53" stroke="#33dd33" stroke-width="0.6" />
<line x1="157.68" y1="355.92" x2="157.68" y2="359.28" stroke="#33dd33" stroke-width="0.6" />
<line x1="156.08" y1="355.92" x2="159.28" y2="355.92" stroke="#33dd33" stroke-width="0.6" />
<line x1="156.08" y1="359.28" x2="159.28" y2="359.28" stroke="#33dd33" stroke-width="0.6" />
<line x1="165.05" y1="356.34" x2="165.05" y2="359.70" stroke="#33dd33" stroke-width="0.6" />
<line x1="163.45" y1="356.34" x2="166.65" y2="356.34" stroke="#33dd33" stroke-width="0.6" />
<line x1="163.45" y1="359.70" x2="166.65" y2="359.70" stroke="#33dd33" stroke-width="0.6" />
<line x1="179.80" y1="357.18" x2="179.80" y2="360.53" stroke="#33dd33" stroke-width="0.6" />
<line x1="178.20" y1="357.18" x2="181.40" y2="357.18" stroke="#33dd33" stroke-width="0.6" />
<line x1="178.20" y1="360.53" x2="181.40" y2="360.53" stroke="#33dd33" stroke-width="0.6" />
<line x1="209.30" y1="358.02" x2="209.30" y2="361.37" stroke="#33dd33" stroke-width="0.6" />
<line x1="207.70" y1="358.02" x2="210.90" y2="358.02" stroke="#33dd33" stroke-width="0.6" />
<line x1="207.70" y1="361.37" x2="210.90" y2="361.37" stroke="#33dd33" stroke-width="0.6" />
<polygon points="44.80,297.35 43.50,299.69 46.10,299.69" fill="#33dd33"/>
<polygon points="50.98,350.98 49.68,353.32 52.28,353.32" fill="#33dd33"/>
<polygon points="57.16,356.01 55.86,358.35 58.46,358.35" fill="#33dd33"/>
<polygon points="69.52,356.01 68.22,358.35 70.82,358.35" fill="#33dd33"/>
<polygon points="94.24,356.85 92.94,359.19 95.54,359.19" fill="#33dd33"/>
<polygon points="143.68,356.85 142.38,359.19 144.98,359.19" fill="#33dd33"/>
<polygon points="157.68,356.43 156.38,358.77 158.98,358.77" fill="#33dd33"/>
<polygon points="165.05,356.85 163.75,359.19 166.35,359.19" fill="#33dd33"/>
<polygon points="179.80,357.69 178.50,360.03 181.10,360.03" fill="#33dd33"/>
<polygon points="209.30,358.53 208.00,360.87 210.60,360.87" fill="#33dd33"/>
<polyline points="44.80,298.52 50.98,350.48 57.16,355.51 69.52,355.51 94.24,356.76 143.68,356.76 152.30,356.76" fill="none" stroke="#2222ee" stroke-width="0.7" />
<polyline points="157.68,356.76 165.05,357.18 179.80,358.02 209.30,360.53" fill="none" stroke="#2222ee" stroke-width="0.7" />
<line x1="50.98" y1="347.13" x2="50.98" y2="353.83" stroke="#2222ee" stroke-width="0.6" />
<line x1="49.38" y1="347.13" x2="52.58" y2="347.13" stroke="#2222ee" stroke-width="0.6" />
<line x1="49.38" y1="353.83" x2="52.58" y2="353.83" stroke="#2222ee" stroke-width="0.6" />
<line x1="57.16" y1="353.83" x2="57.16" y2="357.18" stroke="#2222ee" stroke-width="0.6" />
<line x1="55.56" y1="353.83" x2="58.76" y2="353.83" stroke="#2222ee" stroke-width="0.6" />
<line x1="55.56" y1="357.18" x2="58.76" y2="357.18" stroke="#2222ee" stroke-width="0.6" />
<line x1="69.52" y1="352.99" x2="69.52" y2="358.02" stroke="#2222ee" stroke-width="0.6" />
<line x1="67.92" y1="352.99" x2="71.12" y2="352.99" stroke="#2222ee" stroke-width="0.6" />
<line x1="67.92" y1="358.02" x2="71.12" y2="358.02" stroke="#2222ee" stroke-width="0.6" />
<line x1="94.24" y1="355.09" x2="94.24" y2="358.44" stroke="#2222ee" stroke-width="0.6" />
<line x1="92.64" y1="355.09" x2="95.84" y2="355.09" stroke="#2222ee" stroke-width="0.6" />
<line x1="92.64" y1="358.44" x2="95.84" y2="358.44" stroke="#2222ee" stroke-width="0.6" />
<line x1="143.68" y1="354.25" x2="143.68" y2="359.28" stroke="#2222ee" stroke-width="0.6" />
<line x1="142.08" y1="354.25" x2="145.28" y2="354.25" stroke="#2222ee" stroke-width="0.6" />
<line x1="142.08" y1="359.28" x2="145.28" y2="359.28" stroke="#2222ee" stroke-width="0.6" />
<line x1="157.68" y1="355.09" x2="157.68" y2="358.44" stroke="#2222ee" stroke-width="0.6" />
<line x1="156.08" y1="355.09" x2="159.28" y2="355.09" stroke="#2222ee" stroke-width="0.6" />
<line x1="156.08" y1="358.44" x2="159.28" y2="358.44" stroke="#2222ee" stroke-width="0.6" />
<line x1="165.05" y1="355.51" x2="165.05" y2="358.86" stroke="#2222ee" stroke-width="0.6" />
<line x1="163.45" y1="355.51" x2="166.65" y2="355.51" stroke="#2222ee" stroke-width="0.6" />
<line x1="163.45" y1="358.86" x2="166.65" y2="358.86" stroke="#2222ee" stroke-width="0.6" />
<line x1="179.80" y1="356.34" x2="179.80" y2="359.70" stroke="#2222ee" stroke-width="0.6" />
<line x1="178.20" y1="356.34" x2="181.40" y2="356.34" stroke="#2222ee" stroke-width="0.6" />
<line x1="178.20" y1="359.70" x2="181.40" y2="359.70" stroke="#2222ee" stroke-width="0.6" />
<line x1="209.30" y1="358.86" x2="209.30" y2="362.21" stroke="#2222ee" stroke-width="0.6" />
<line x1="207.70" y1="358.86" x2="210.90" y2="358.86" stroke="#2222ee" stroke-width="0.6" />
<line x1="207.70" y1="362.21" x2="210.90" y2="362.21" stroke="#2222ee" stroke-width="0.6" />
<polygon points="44.80,297.12 46.20,298.52 44.80,299.92 43.40,298.52" fill="#2222ee"/>
<polygon points="50.98,349.08 52.38,350.48 50.98,351.88 49.58,350.48" fill="#2222ee"/>
<polygon points="57.16,354.11 58.56,355.51 57.16,356.91 55.76,355.51" fill="#2222ee"/>
<polygon points="69.52,354.11 70.92,355.51 69.52,356.91 68.12,355.51" fill="#2222ee"/>
<polygon points="94.24,355.36 95.64,356.76 94.24,358.16 92.84,356.76" fill="#2222ee"/>
<polygon points="143.68,355.36 145.08,356.76 143.68,358.16 142.28,356.76" fill="#2222ee"/>
<polygon points="157.68,355.36 159.08,356.76 157.68,358.16 156.28,356.76" fill="#2222ee"/>
<polygon points="165.05,355.78 166.45,357.18 165.05,358.58 163.65,357.18" fill="#2222ee"/>
<polygon points="179.80,356.62 181.20,358.02 179.80,359.42 178.40,358.02" fill="#2222ee"/>
<polygon points="209.30,359.13 210.70,360.53 209.30,361.93 207.90,360.53" fill="#2222ee"/>
<polyline points="44.80,298.52 50.98,342.94 57.16,345.87 69.52,350.06 94.24,359.28 143.68,365.14 152.30,365.14" fill="none" stroke="#ee2222" stroke-width="0.7" />
<polyline points="157.68,364.72 165.05,364.72 179.80,364.72 209.30,364.72" fill="none" stroke="#ee2222" stroke-width="0.7" />
<line x1="50.98" y1="340.42" x2="50.98" y2="345.45" stroke="#ee2222" stroke-width="0.6" />
<line x1="49.38" y1="340.42" x2="52.58" y2="340.42" stroke="#ee2222" stroke-width="0.6" />
<line x1="49.38" y1="345.45" x2="52.58" y2="345.45" stroke="#ee2222" stroke-width="0.6" />
<line x1="157.68" y1="363.89" x2="157.68" y2="365.56" stroke="#ee2222" stroke-width="0.6" />
<line x1="156.08" y1="363.89" x2="159.28" y2="363.89" stroke="#ee2222" stroke-width="0.6" />
<line x1="156.08" y1="365.56" x2="159.28" y2="365.56" stroke="#ee2222" stroke-width="0.6" />
<line x1="165.05" y1="363.89" x2="165.05" y2="365.56" stroke="#ee2222" stroke-width="0.6" />
<line x1="163.45" y1="363.89" x2="166.65" y2="363.89" stroke="#ee2222" stroke-width="0.6" />
<line x1="163.45" y1="365.56" x2="166.65" y2="365.56" stroke="#ee2222" stroke-width="0.6" />
<line x1="179.80" y1="363.89" x2="179.80" y2="365.56" stroke="#ee2222" stroke-width="0.6" />
<line x1="178.20" y1="363.89" x2="181.40" y2="363.89" stroke="#ee2222" stroke-width="0.6" />
<line x1="178.20" y1="365.56" x2="181.40" y2="365.56" stroke="#ee2222" stroke-width="0.6" />
<line x1="209.30" y1="363.89" x2="209.30" y2="365.56" stroke="#ee2222" stroke-width="0.6" />
<line x1="207.70" y1="363.89" x2="210.90" y2="363.89" stroke="#ee2222" stroke-width="0.6" />
<line x1="207.70" y1="365.56" x2="210.90" y2="365.56" stroke="#ee2222" stroke-width="0.6" />
<circle cx="44.80" cy="298.52" r="1.35" fill="#ee2222"/>
<circle cx="50.98" cy="342.94" r="1.35" fill="#ee2222"/>
<circle cx="57.16" cy="345.87" r="1.35" fill="#ee2222"/>
<circle cx="69.52" cy="350.06" r="1.35" fill="#ee2222"/>
<circle cx="94.24" cy="359.28" r="1.35" fill="#ee2222"/>
<circle cx="143.68" cy="365.14" r="1.35" fill="#ee2222"/>
<circle cx="157.68" cy="364.72" r="1.35" fill="#ee2222"/>
<circle cx="165.05" cy="364.72" r="1.35" fill="#ee2222"/>
<circle cx="179.80" cy="364.72" r="1.35" fill="#ee2222"/>
<circle cx="209.30" cy="364.72" r="1.35" fill="#ee2222"/>
<polyline points="44.80,298.52 50.98,354.67 57.16,361.37 69.52,363.05 94.24,363.05 143.68,363.89 152.30,363.89" fill="none" stroke="#cc33ee" stroke-width="0.7" />
<polyline points="157.68,363.89 165.05,363.89 179.80,363.89 209.30,363.89" fill="none" stroke="#cc33ee" stroke-width="0.7" />
<line x1="50.98" y1="352.99" x2="50.98" y2="356.34" stroke="#cc33ee" stroke-width="0.6" />
<line x1="49.38" y1="352.99" x2="52.58" y2="352.99" stroke="#cc33ee" stroke-width="0.6" />
<line x1="49.38" y1="356.34" x2="52.58" y2="356.34" stroke="#cc33ee" stroke-width="0.6" />
<line x1="57.16" y1="359.70" x2="57.16" y2="363.05" stroke="#cc33ee" stroke-width="0.6" />
<line x1="55.56" y1="359.70" x2="58.76" y2="359.70" stroke="#cc33ee" stroke-width="0.6" />
<line x1="55.56" y1="363.05" x2="58.76" y2="363.05" stroke="#cc33ee" stroke-width="0.6" />
<line x1="69.52" y1="361.37" x2="69.52" y2="364.72" stroke="#cc33ee" stroke-width="0.6" />
<line x1="67.92" y1="361.37" x2="71.12" y2="361.37" stroke="#cc33ee" stroke-width="0.6" />
<line x1="67.92" y1="364.72" x2="71.12" y2="364.72" stroke="#cc33ee" stroke-width="0.6" />
<line x1="94.24" y1="362.21" x2="94.24" y2="363.89" stroke="#cc33ee" stroke-width="0.6" />
<line x1="92.64" y1="362.21" x2="95.84" y2="362.21" stroke="#cc33ee" stroke-width="0.6" />
<line x1="92.64" y1="363.89" x2="95.84" y2="363.89" stroke="#cc33ee" stroke-width="0.6" />
<line x1="143.68" y1="363.05" x2="143.68" y2="364.72" stroke="#cc33ee" stroke-width="0.6" />
<line x1="142.08" y1="363.05" x2="145.28" y2="363.05" stroke="#cc33ee" stroke-width="0.6" />
<line x1="142.08" y1="364.72" x2="145.28" y2="364.72" stroke="#cc33ee" stroke-width="0.6" />
<line x1="157.68" y1="363.05" x2="157.68" y2="364.72" stroke="#cc33ee" stroke-width="0.6" />
<line x1="156.08" y1="363.05" x2="159.28" y2="363.05" stroke="#cc33ee" stroke-width="0.6" />
<line x1="156.08" y1="364.72" x2="159.28" y2="364.72" stroke="#cc33ee" stroke-width="0.6" />
<line x1="165.05" y1="363.05" x2="165.05" y2="364.72" stroke="#cc33ee" stroke-width="0.6" />
<line x1="163.45" y1="363.05" x2="166.65" y2="363.05" stroke="#cc33ee" stroke-width="0.6" />
<line x1="163.45" y1="364.72" x2="166.65" y2="364.72" stroke="#cc33ee" stroke-width="0.6" />
<line x1="179.80" y1="363.05" x2="179.80" y2="364.72" stroke="#cc33ee" stroke-width="0.6" />
<line x1="178.20" y1="363.05" x2="181.40" y2="363.05" stroke="#cc33ee" stroke-width="0.6" />
<line x1="178.20" y1="364.72" x2="181.40" y2="364.72" stroke="#cc33ee" stroke-width="0.6" />
<line x1="209.30" y1="363.05" x2="209.30" y2="364.72" stroke="#cc33ee" stroke-width="0.6" />
<line x1="207.70" y1="363.05" x2="210.90" y2="363.05" stroke="#cc33ee" stroke-width="0.6" />
<line x1="207.70" y1="364.72" x2="210.90" y2="364.72" stroke="#cc33ee" stroke-width="0.6" />
<rect x="43.50" y="297.22" width="2.6" height="2.6" fill="#cc33ee"/>
<rect x="49.68" y="353.37" width="2.6" height="2.6" fill="#cc33ee"/>
<rect x="55.86" y="360.07" width="2.6" height="2.6" fill="#cc33ee"/>
<rect x="68.22" y="361.75" width="2.6" height="2.6" fill="#cc33ee"/>
<rect x="92.94" y="361.75" width="2.6" height="2.6" fill="#cc33ee"/>
<rect x="142.38" y="362.59" width="2.6" height="2.6" fill="#cc33ee"/>
<rect x="156.38" y="362.59" width="2.6" height="2.6" fill="#cc33ee"/>
<rect x="163.75" y="362.59" width="2.6" height="2.6" fill="#cc33ee"/>
<rect x="178.50" y="362.59" width="2.6" height="2.6" fill="#cc33ee"/>
<rect x="208.00" y="362.59" width="2.6" height="2.6" fill="#cc33ee"/>
<polyline points="44.80,298.52 50.98,302.71 57.16,303.97 69.52,301.87 94.24,298.52 143.68,308.58 152.30,334.56" fill="none" stroke="#000" stroke-width="0.7" />
<polyline points="157.68,348.80 165.05,359.28 179.80,360.11 209.30,361.37" fill="none" stroke="#000" stroke-width="0.7" />
<line x1="69.52" y1="295.17" x2="69.52" y2="308.58" stroke="#000" stroke-width="0.6" />
<line x1="67.92" y1="295.17" x2="71.12" y2="295.17" stroke="#000" stroke-width="0.6" />
<line x1="67.92" y1="308.58" x2="71.12" y2="308.58" stroke="#000" stroke-width="0.6" />
<line x1="94.24" y1="293.49" x2="94.24" y2="303.55" stroke="#000" stroke-width="0.6" />
<line x1="92.64" y1="293.49" x2="95.84" y2="293.49" stroke="#000" stroke-width="0.6" />
<line x1="92.64" y1="303.55" x2="95.84" y2="303.55" stroke="#000" stroke-width="0.6" />
<line x1="143.68" y1="305.23" x2="143.68" y2="311.93" stroke="#000" stroke-width="0.6" />
<line x1="142.08" y1="305.23" x2="145.28" y2="305.23" stroke="#000" stroke-width="0.6" />
<line x1="142.08" y1="311.93" x2="145.28" y2="311.93" stroke="#000" stroke-width="0.6" />
<line x1="157.68" y1="337.07" x2="157.68" y2="360.53" stroke="#000" stroke-width="0.6" />
<line x1="156.08" y1="337.07" x2="159.28" y2="337.07" stroke="#000" stroke-width="0.6" />
<line x1="156.08" y1="360.53" x2="159.28" y2="360.53" stroke="#000" stroke-width="0.6" />
<line x1="165.05" y1="356.76" x2="165.05" y2="361.79" stroke="#000" stroke-width="0.6" />
<line x1="163.45" y1="356.76" x2="166.65" y2="356.76" stroke="#000" stroke-width="0.6" />
<line x1="163.45" y1="361.79" x2="166.65" y2="361.79" stroke="#000" stroke-width="0.6" />
<line x1="179.80" y1="357.60" x2="179.80" y2="362.63" stroke="#000" stroke-width="0.6" />
<line x1="178.20" y1="357.60" x2="181.40" y2="357.60" stroke="#000" stroke-width="0.6" />
<line x1="178.20" y1="362.63" x2="181.40" y2="362.63" stroke="#000" stroke-width="0.6" />
<line x1="209.30" y1="359.70" x2="209.30" y2="363.05" stroke="#000" stroke-width="0.6" />
<line x1="207.70" y1="359.70" x2="210.90" y2="359.70" stroke="#000" stroke-width="0.6" />
<line x1="207.70" y1="363.05" x2="210.90" y2="363.05" stroke="#000" stroke-width="0.6" />
<circle cx="44.80" cy="298.52" r="1.35" fill="#000"/>
<circle cx="50.98" cy="302.71" r="1.35" fill="#000"/>
<circle cx="57.16" cy="303.97" r="1.35" fill="#000"/>
<circle cx="69.52" cy="301.87" r="1.35" fill="#000"/>
<circle cx="94.24" cy="298.52" r="1.35" fill="#000"/>
<circle cx="143.68" cy="308.58" r="1.35" fill="#000"/>
<circle cx="157.68" cy="348.80" r="1.35" fill="#000"/>
<circle cx="165.05" cy="359.28" r="1.35" fill="#000"/>
<circle cx="179.80" cy="360.11" r="1.35" fill="#000"/>
<circle cx="209.30" cy="361.37" r="1.35" fill="#000"/>
<circle cx="44.80" cy="298.52" r="1.9" fill="#1a0a22"/>
<line x1="166.40" y1="286.90" x2="174.80" y2="286.90" stroke="#000" stroke-width="0.8" />
<circle cx="170.60" cy="286.90" r="1.4" fill="#000"/>
<text x="179.10" y="289.00" font-size="6.1" text-anchor="start" font-weight="normal" fill="#000"  textLength="8.8" lengthAdjust="spacingAndGlyphs" stroke="#000" stroke-width="0.18">PTZ</text>
<line x1="166.40" y1="298.05" x2="174.80" y2="298.05" stroke="#33dd33" stroke-width="0.8" />
<polygon points="170.60,296.88 169.30,299.22 171.90,299.22" fill="#33dd33"/>
<text x="179.10" y="300.15" font-size="6.1" text-anchor="start" font-weight="normal" fill="#000"  textLength="25.3" lengthAdjust="spacingAndGlyphs" stroke="#000" stroke-width="0.18">PTZ+PW21</text>
<line x1="166.40" y1="309.20" x2="174.80" y2="309.20" stroke="#2222ee" stroke-width="0.8" />
<polygon points="170.60,307.80 172.00,309.20 170.60,310.60 169.20,309.20" fill="#2222ee"/>
<text x="179.10" y="311.30" font-size="6.1" text-anchor="start" font-weight="normal" fill="#000"  textLength="27.3" lengthAdjust="spacingAndGlyphs" stroke="#000" stroke-width="0.18">PTZ+KSY1a</text>
<line x1="166.40" y1="320.35" x2="174.80" y2="320.35" stroke="#ee2222" stroke-width="0.8" />
<circle cx="170.60" cy="320.35" r="1.4" fill="#ee2222"/>
<text x="179.10" y="322.45" font-size="6.1" text-anchor="start" font-weight="normal" fill="#000"  textLength="26.5" lengthAdjust="spacingAndGlyphs" stroke="#000" stroke-width="0.18">PTZ+P0413</text>
<line x1="166.40" y1="331.50" x2="174.80" y2="331.50" stroke="#cc33ee" stroke-width="0.8" />
<rect x="169.20" y="330.10" width="2.8" height="2.8" fill="#cc33ee"/>
<text x="179.10" y="333.60" font-size="6.1" text-anchor="start" font-weight="normal" fill="#000"  textLength="34.1" lengthAdjust="spacingAndGlyphs" stroke="#000" stroke-width="0.18">PTZ+Cocktail 3</text>
<text x="240.90" y="153.80" font-size="12" text-anchor="start" font-weight="bold" fill="#000" >D</text>
<line x1="288.60" y1="164.90" x2="288.60" y2="250.20" stroke="#111" stroke-width="1.8" />
<line x1="285.60" y1="249.60" x2="288.60" y2="249.60" stroke="#111" stroke-width="0.9" />
<text x="284.80" y="251.70" font-size="5.6" text-anchor="end" font-weight="normal">10<tspan font-size="3.70" dx="0.3" dy="-2.52">2</tspan></text>
<line x1="286.30" y1="245.37" x2="288.60" y2="245.37" stroke="#111" stroke-width="0.75" />
<line x1="286.30" y1="242.90" x2="288.60" y2="242.90" stroke="#111" stroke-width="0.75" />
<line x1="286.30" y1="241.14" x2="288.60" y2="241.14" stroke="#111" stroke-width="0.75" />
<line x1="286.30" y1="239.78" x2="288.60" y2="239.78" stroke="#111" stroke-width="0.75" />
<line x1="286.30" y1="238.67" x2="288.60" y2="238.67" stroke="#111" stroke-width="0.75" />
<line x1="286.30" y1="237.73" x2="288.60" y2="237.73" stroke="#111" stroke-width="0.75" />
<line x1="286.30" y1="236.91" x2="288.60" y2="236.91" stroke="#111" stroke-width="0.75" />
<line x1="286.30" y1="236.19" x2="288.60" y2="236.19" stroke="#111" stroke-width="0.75" />
<line x1="285.60" y1="235.55" x2="288.60" y2="235.55" stroke="#111" stroke-width="0.9" />
<text x="284.80" y="237.65" font-size="5.6" text-anchor="end" font-weight="normal">10<tspan font-size="3.70" dx="0.3" dy="-2.52">3</tspan></text>
<line x1="286.30" y1="231.32" x2="288.60" y2="231.32" stroke="#111" stroke-width="0.75" />
<line x1="286.30" y1="228.85" x2="288.60" y2="228.85" stroke="#111" stroke-width="0.75" />
<line x1="286.30" y1="227.09" x2="288.60" y2="227.09" stroke="#111" stroke-width="0.75" />
<line x1="286.30" y1="225.73" x2="288.60" y2="225.73" stroke="#111" stroke-width="0.75" />
<line x1="286.30" y1="224.62" x2="288.60" y2="224.62" stroke="#111" stroke-width="0.75" />
<line x1="286.30" y1="223.68" x2="288.60" y2="223.68" stroke="#111" stroke-width="0.75" />
<line x1="286.30" y1="222.86" x2="288.60" y2="222.86" stroke="#111" stroke-width="0.75" />
<line x1="286.30" y1="222.14" x2="288.60" y2="222.14" stroke="#111" stroke-width="0.75" />
<line x1="285.60" y1="221.50" x2="288.60" y2="221.50" stroke="#111" stroke-width="0.9" />
<text x="284.80" y="223.60" font-size="5.6" text-anchor="end" font-weight="normal">10<tspan font-size="3.70" dx="0.3" dy="-2.52">4</tspan></text>
<line x1="286.30" y1="217.27" x2="288.60" y2="217.27" stroke="#111" stroke-width="0.75" />
<line x1="286.30" y1="214.80" x2="288.60" y2="214.80" stroke="#111" stroke-width="0.75" />
<line x1="286.30" y1="213.04" x2="288.60" y2="213.04" stroke="#111" stroke-width="0.75" />
<line x1="286.30" y1="211.68" x2="288.60" y2="211.68" stroke="#111" stroke-width="0.75" />
<line x1="286.30" y1="210.57" x2="288.60" y2="210.57" stroke="#111" stroke-width="0.75" />
<line x1="286.30" y1="209.63" x2="288.60" y2="209.63" stroke="#111" stroke-width="0.75" />
<line x1="286.30" y1="208.81" x2="288.60" y2="208.81" stroke="#111" stroke-width="0.75" />
<line x1="286.30" y1="208.09" x2="288.60" y2="208.09" stroke="#111" stroke-width="0.75" />
<line x1="285.60" y1="207.45" x2="288.60" y2="207.45" stroke="#111" stroke-width="0.9" />
<text x="284.80" y="209.55" font-size="5.6" text-anchor="end" font-weight="normal">10<tspan font-size="3.70" dx="0.3" dy="-2.52">5</tspan></text>
<line x1="286.30" y1="203.22" x2="288.60" y2="203.22" stroke="#111" stroke-width="0.75" />
<line x1="286.30" y1="200.75" x2="288.60" y2="200.75" stroke="#111" stroke-width="0.75" />
<line x1="286.30" y1="198.99" x2="288.60" y2="198.99" stroke="#111" stroke-width="0.75" />
<line x1="286.30" y1="197.63" x2="288.60" y2="197.63" stroke="#111" stroke-width="0.75" />
<line x1="286.30" y1="196.52" x2="288.60" y2="196.52" stroke="#111" stroke-width="0.75" />
<line x1="286.30" y1="195.58" x2="288.60" y2="195.58" stroke="#111" stroke-width="0.75" />
<line x1="286.30" y1="194.76" x2="288.60" y2="194.76" stroke="#111" stroke-width="0.75" />
<line x1="286.30" y1="194.04" x2="288.60" y2="194.04" stroke="#111" stroke-width="0.75" />
<line x1="285.60" y1="193.40" x2="288.60" y2="193.40" stroke="#111" stroke-width="0.9" />
<text x="284.80" y="195.50" font-size="5.6" text-anchor="end" font-weight="normal">10<tspan font-size="3.70" dx="0.3" dy="-2.52">6</tspan></text>
<line x1="286.30" y1="189.17" x2="288.60" y2="189.17" stroke="#111" stroke-width="0.75" />
<line x1="286.30" y1="186.70" x2="288.60" y2="186.70" stroke="#111" stroke-width="0.75" />
<line x1="286.30" y1="184.94" x2="288.60" y2="184.94" stroke="#111" stroke-width="0.75" />
<line x1="286.30" y1="183.58" x2="288.60" y2="183.58" stroke="#111" stroke-width="0.75" />
<line x1="286.30" y1="182.47" x2="288.60" y2="182.47" stroke="#111" stroke-width="0.75" />
<line x1="286.30" y1="181.53" x2="288.60" y2="181.53" stroke="#111" stroke-width="0.75" />
<line x1="286.30" y1="180.71" x2="288.60" y2="180.71" stroke="#111" stroke-width="0.75" />
<line x1="286.30" y1="179.99" x2="288.60" y2="179.99" stroke="#111" stroke-width="0.75" />
<line x1="285.60" y1="179.35" x2="288.60" y2="179.35" stroke="#111" stroke-width="0.9" />
<text x="284.80" y="181.45" font-size="5.6" text-anchor="end" font-weight="normal">10<tspan font-size="3.70" dx="0.3" dy="-2.52">7</tspan></text>
<line x1="286.30" y1="175.12" x2="288.60" y2="175.12" stroke="#111" stroke-width="0.75" />
<line x1="286.30" y1="172.65" x2="288.60" y2="172.65" stroke="#111" stroke-width="0.75" />
<line x1="286.30" y1="170.89" x2="288.60" y2="170.89" stroke="#111" stroke-width="0.75" />
<line x1="286.30" y1="169.53" x2="288.60" y2="169.53" stroke="#111" stroke-width="0.75" />
<line x1="286.30" y1="168.42" x2="288.60" y2="168.42" stroke="#111" stroke-width="0.75" />
<line x1="286.30" y1="167.48" x2="288.60" y2="167.48" stroke="#111" stroke-width="0.75" />
<line x1="286.30" y1="166.66" x2="288.60" y2="166.66" stroke="#111" stroke-width="0.75" />
<line x1="286.30" y1="165.94" x2="288.60" y2="165.94" stroke="#111" stroke-width="0.75" />
<line x1="285.60" y1="165.30" x2="288.60" y2="165.30" stroke="#111" stroke-width="0.9" />
<text x="284.80" y="167.40" font-size="5.6" text-anchor="end" font-weight="normal">10<tspan font-size="3.70" dx="0.3" dy="-2.52">8</tspan></text>
<line x1="288.60" y1="249.60" x2="451.80" y2="249.60" stroke="#111" stroke-width="1.4" />
<line x1="309.50" y1="249.60" x2="309.50" y2="253.60" stroke="#111" stroke-width="0.9" />
<text x="309.50" y="260.50" font-size="6.0" text-anchor="middle" font-weight="bold" fill="#000"  textLength="9.6" lengthAdjust="spacingAndGlyphs">LVX</text>
<line x1="339.60" y1="249.60" x2="339.60" y2="253.60" stroke="#111" stroke-width="0.9" />
<text x="339.60" y="260.50" font-size="6.0" text-anchor="middle" font-weight="bold" fill="#000"  textLength="25.0" lengthAdjust="spacingAndGlyphs">LVX+PW21</text>
<line x1="370.00" y1="249.60" x2="370.00" y2="253.60" stroke="#111" stroke-width="0.9" />
<text x="370.00" y="260.50" font-size="6.0" text-anchor="middle" font-weight="bold" fill="#000"  textLength="27.4" lengthAdjust="spacingAndGlyphs">LVX+KSY1a</text>
<line x1="400.20" y1="249.60" x2="400.20" y2="253.60" stroke="#111" stroke-width="0.9" />
<text x="400.20" y="260.50" font-size="6.0" text-anchor="middle" font-weight="bold" fill="#000"  textLength="25.7" lengthAdjust="spacingAndGlyphs">LVX+P0413</text>
<line x1="431.10" y1="249.60" x2="431.10" y2="253.60" stroke="#111" stroke-width="0.9" />
<text x="431.10" y="260.50" font-size="6.0" text-anchor="middle" font-weight="bold" fill="#000"  textLength="36.0" lengthAdjust="spacingAndGlyphs">LVX+Cocktail 3</text>
<text transform="translate(267.6,207.70) rotate(-90)" font-size="6.6" font-weight="bold" text-anchor="middle" textLength="55.8" lengthAdjust="spacing">Viability (cfu/mL)</text>
<text x="398.20" y="171.30" font-size="6.6" text-anchor="start" font-weight="normal" fill="#222"  textLength="45.5" lengthAdjust="spacingAndGlyphs" stroke="#222" stroke-width="0.18">[LVX] = 0.4µg/mL</text>
<line x1="299.30" y1="166.70" x2="319.70" y2="166.70" stroke="#777" stroke-width="0.8" />
<line x1="309.50" y1="166.00" x2="309.50" y2="167.60" stroke="#111" stroke-width="0.7" />
<line x1="304.50" y1="166.00" x2="314.50" y2="166.00" stroke="#111" stroke-width="0.8" />
<line x1="304.50" y1="167.60" x2="314.50" y2="167.60" stroke="#111" stroke-width="0.8" />
<circle cx="305.90" cy="167.70" r="1.5" fill="#000"/>
<circle cx="312.00" cy="166.00" r="1.5" fill="#000"/>
<line x1="329.40" y1="242.30" x2="349.80" y2="242.30" stroke="#66dd66" stroke-width="0.8" />
<line x1="339.60" y1="239.40" x2="339.60" y2="246.00" stroke="#22cc22" stroke-width="0.7" />
<line x1="334.60" y1="239.40" x2="344.60" y2="239.40" stroke="#22cc22" stroke-width="0.8" />
<line x1="334.60" y1="246.00" x2="344.60" y2="246.00" stroke="#22cc22" stroke-width="0.8" />
<polygon points="339.60,239.09 338.15,241.71 341.05,241.71" fill="#22cc22"/>
<polygon points="339.60,243.50 338.15,246.11 341.05,246.11" fill="#22cc22"/>
<line x1="359.80" y1="203.80" x2="380.20" y2="203.80" stroke="#c8c8f6" stroke-width="0.8" />
<line x1="370.00" y1="201.50" x2="370.00" y2="207.40" stroke="#2222ee" stroke-width="0.7" />
<line x1="365.00" y1="201.50" x2="375.00" y2="201.50" stroke="#2222ee" stroke-width="0.8" />
<line x1="365.00" y1="207.40" x2="375.00" y2="207.40" stroke="#2222ee" stroke-width="0.8" />
<circle cx="370.00" cy="202.00" r="1.3" fill="#1111ee"/>
<circle cx="370.00" cy="206.20" r="1.3" fill="#1111ee"/>
<line x1="390.20" y1="201.20" x2="410.60" y2="201.20" stroke="#ee2222" stroke-width="0.8" />
<line x1="400.40" y1="199.20" x2="400.40" y2="204.90" stroke="#ee2222" stroke-width="0.7" />
<line x1="395.40" y1="199.20" x2="405.40" y2="199.20" stroke="#ee2222" stroke-width="0.8" />
<line x1="395.40" y1="204.90" x2="405.40" y2="204.90" stroke="#f39a9a" stroke-width="0.8" />
<circle cx="400.40" cy="199.90" r="1.3" fill="#ee1111"/>
<circle cx="400.40" cy="203.80" r="1.3" fill="#ee1111"/>
<line x1="420.60" y1="241.20" x2="441.00" y2="241.20" stroke="#555" stroke-width="0.8" />
<circle cx="428.10" cy="241.20" r="1.8" fill="#cc22ee"/>
<circle cx="433.80" cy="241.20" r="1.8" fill="#cc22ee"/>
<line x1="288.60" y1="282.30" x2="288.60" y2="369.10" stroke="#111" stroke-width="1.8" />
<line x1="285.60" y1="368.50" x2="288.60" y2="368.50" stroke="#111" stroke-width="0.9" />
<text x="284.80" y="370.60" font-size="5.6" text-anchor="end" font-weight="normal">10<tspan font-size="3.70" dx="0.3" dy="-2.52">2</tspan></text>
<line x1="286.30" y1="364.20" x2="288.60" y2="364.20" stroke="#111" stroke-width="0.75" />
<line x1="286.30" y1="361.68" x2="288.60" y2="361.68" stroke="#111" stroke-width="0.75" />
<line x1="286.30" y1="359.89" x2="288.60" y2="359.89" stroke="#111" stroke-width="0.75" />
<line x1="286.30" y1="358.50" x2="288.60" y2="358.50" stroke="#111" stroke-width="0.75" />
<line x1="286.30" y1="357.37" x2="288.60" y2="357.37" stroke="#111" stroke-width="0.75" />
<line x1="286.30" y1="356.42" x2="288.60" y2="356.42" stroke="#111" stroke-width="0.75" />
<line x1="286.30" y1="355.59" x2="288.60" y2="355.59" stroke="#111" stroke-width="0.75" />
<line x1="286.30" y1="354.85" x2="288.60" y2="354.85" stroke="#111" stroke-width="0.75" />
<line x1="285.60" y1="354.20" x2="288.60" y2="354.20" stroke="#111" stroke-width="0.9" />
<text x="284.80" y="356.30" font-size="5.6" text-anchor="end" font-weight="normal">10<tspan font-size="3.70" dx="0.3" dy="-2.52">3</tspan></text>
<line x1="286.30" y1="349.90" x2="288.60" y2="349.90" stroke="#111" stroke-width="0.75" />
<line x1="286.30" y1="347.38" x2="288.60" y2="347.38" stroke="#111" stroke-width="0.75" />
<line x1="286.30" y1="345.59" x2="288.60" y2="345.59" stroke="#111" stroke-width="0.75" />
<line x1="286.30" y1="344.20" x2="288.60" y2="344.20" stroke="#111" stroke-width="0.75" />
<line x1="286.30" y1="343.07" x2="288.60" y2="343.07" stroke="#111" stroke-width="0.75" />
<line x1="286.30" y1="342.12" x2="288.60" y2="342.12" stroke="#111" stroke-width="0.75" />
<line x1="286.30" y1="341.29" x2="288.60" y2="341.29" stroke="#111" stroke-width="0.75" />
<line x1="286.30" y1="340.55" x2="288.60" y2="340.55" stroke="#111" stroke-width="0.75" />
<line x1="285.60" y1="339.90" x2="288.60" y2="339.90" stroke="#111" stroke-width="0.9" />
<text x="284.80" y="342.00" font-size="5.6" text-anchor="end" font-weight="normal">10<tspan font-size="3.70" dx="0.3" dy="-2.52">4</tspan></text>
<line x1="286.30" y1="335.60" x2="288.60" y2="335.60" stroke="#111" stroke-width="0.75" />
<line x1="286.30" y1="333.08" x2="288.60" y2="333.08" stroke="#111" stroke-width="0.75" />
<line x1="286.30" y1="331.29" x2="288.60" y2="331.29" stroke="#111" stroke-width="0.75" />
<line x1="286.30" y1="329.90" x2="288.60" y2="329.90" stroke="#111" stroke-width="0.75" />
<line x1="286.30" y1="328.77" x2="288.60" y2="328.77" stroke="#111" stroke-width="0.75" />
<line x1="286.30" y1="327.82" x2="288.60" y2="327.82" stroke="#111" stroke-width="0.75" />
<line x1="286.30" y1="326.99" x2="288.60" y2="326.99" stroke="#111" stroke-width="0.75" />
<line x1="286.30" y1="326.25" x2="288.60" y2="326.25" stroke="#111" stroke-width="0.75" />
<line x1="285.60" y1="325.60" x2="288.60" y2="325.60" stroke="#111" stroke-width="0.9" />
<text x="284.80" y="327.70" font-size="5.6" text-anchor="end" font-weight="normal">10<tspan font-size="3.70" dx="0.3" dy="-2.52">5</tspan></text>
<line x1="286.30" y1="321.30" x2="288.60" y2="321.30" stroke="#111" stroke-width="0.75" />
<line x1="286.30" y1="318.78" x2="288.60" y2="318.78" stroke="#111" stroke-width="0.75" />
<line x1="286.30" y1="316.99" x2="288.60" y2="316.99" stroke="#111" stroke-width="0.75" />
<line x1="286.30" y1="315.60" x2="288.60" y2="315.60" stroke="#111" stroke-width="0.75" />
<line x1="286.30" y1="314.47" x2="288.60" y2="314.47" stroke="#111" stroke-width="0.75" />
<line x1="286.30" y1="313.52" x2="288.60" y2="313.52" stroke="#111" stroke-width="0.75" />
<line x1="286.30" y1="312.69" x2="288.60" y2="312.69" stroke="#111" stroke-width="0.75" />
<line x1="286.30" y1="311.95" x2="288.60" y2="311.95" stroke="#111" stroke-width="0.75" />
<line x1="285.60" y1="311.30" x2="288.60" y2="311.30" stroke="#111" stroke-width="0.9" />
<text x="284.80" y="313.40" font-size="5.6" text-anchor="end" font-weight="normal">10<tspan font-size="3.70" dx="0.3" dy="-2.52">6</tspan></text>
<line x1="286.30" y1="307.00" x2="288.60" y2="307.00" stroke="#111" stroke-width="0.75" />
<line x1="286.30" y1="304.48" x2="288.60" y2="304.48" stroke="#111" stroke-width="0.75" />
<line x1="286.30" y1="302.69" x2="288.60" y2="302.69" stroke="#111" stroke-width="0.75" />
<line x1="286.30" y1="301.30" x2="288.60" y2="301.30" stroke="#111" stroke-width="0.75" />
<line x1="286.30" y1="300.17" x2="288.60" y2="300.17" stroke="#111" stroke-width="0.75" />
<line x1="286.30" y1="299.22" x2="288.60" y2="299.22" stroke="#111" stroke-width="0.75" />
<line x1="286.30" y1="298.39" x2="288.60" y2="298.39" stroke="#111" stroke-width="0.75" />
<line x1="286.30" y1="297.65" x2="288.60" y2="297.65" stroke="#111" stroke-width="0.75" />
<line x1="285.60" y1="297.00" x2="288.60" y2="297.00" stroke="#111" stroke-width="0.9" />
<text x="284.80" y="299.10" font-size="5.6" text-anchor="end" font-weight="normal">10<tspan font-size="3.70" dx="0.3" dy="-2.52">7</tspan></text>
<line x1="286.30" y1="292.70" x2="288.60" y2="292.70" stroke="#111" stroke-width="0.75" />
<line x1="286.30" y1="290.18" x2="288.60" y2="290.18" stroke="#111" stroke-width="0.75" />
<line x1="286.30" y1="288.39" x2="288.60" y2="288.39" stroke="#111" stroke-width="0.75" />
<line x1="286.30" y1="287.00" x2="288.60" y2="287.00" stroke="#111" stroke-width="0.75" />
<line x1="286.30" y1="285.87" x2="288.60" y2="285.87" stroke="#111" stroke-width="0.75" />
<line x1="286.30" y1="284.92" x2="288.60" y2="284.92" stroke="#111" stroke-width="0.75" />
<line x1="286.30" y1="284.09" x2="288.60" y2="284.09" stroke="#111" stroke-width="0.75" />
<line x1="286.30" y1="283.35" x2="288.60" y2="283.35" stroke="#111" stroke-width="0.75" />
<line x1="285.60" y1="282.70" x2="288.60" y2="282.70" stroke="#111" stroke-width="0.9" />
<text x="284.80" y="284.80" font-size="5.6" text-anchor="end" font-weight="normal">10<tspan font-size="3.70" dx="0.3" dy="-2.52">8</tspan></text>
<line x1="288.60" y1="368.50" x2="454.70" y2="368.50" stroke="#111" stroke-width="1.4" />
<line x1="309.60" y1="368.50" x2="309.60" y2="372.50" stroke="#111" stroke-width="0.9" />
<text x="309.60" y="377.80" font-size="4.6" text-anchor="middle" font-weight="bold" fill="#000"  textLength="7.4" lengthAdjust="spacingAndGlyphs">PTZ</text>
<line x1="340.20" y1="368.50" x2="340.20" y2="372.50" stroke="#111" stroke-width="0.9" />
<text x="340.20" y="377.80" font-size="4.6" text-anchor="middle" font-weight="bold" fill="#000"  textLength="22.0" lengthAdjust="spacingAndGlyphs">PTZ+PW21</text>
<line x1="371.00" y1="368.50" x2="371.00" y2="372.50" stroke="#111" stroke-width="0.9" />
<text x="371.00" y="377.80" font-size="4.6" text-anchor="middle" font-weight="bold" fill="#000"  textLength="23.5" lengthAdjust="spacingAndGlyphs">PTZ+KSY1a</text>
<line x1="401.70" y1="368.50" x2="401.70" y2="372.50" stroke="#111" stroke-width="0.9" />
<text x="401.70" y="377.80" font-size="4.6" text-anchor="middle" font-weight="bold" fill="#000"  textLength="22.5" lengthAdjust="spacingAndGlyphs">PTZ+P0413</text>
<line x1="432.80" y1="368.50" x2="432.80" y2="372.50" stroke="#111" stroke-width="0.9" />
<text x="432.80" y="377.80" font-size="4.6" text-anchor="middle" font-weight="bold" fill="#000"  textLength="29.0" lengthAdjust="spacingAndGlyphs">PTZ+Cocktail 3</text>
<text transform="translate(267.6,326.00) rotate(-90)" font-size="6.6" font-weight="bold" text-anchor="middle" textLength="55.8" lengthAdjust="spacing">Viability (cfu/mL)</text>
<text x="403.60" y="290.30" font-size="6.6" text-anchor="start" font-weight="normal" fill="#222"  textLength="43.6" lengthAdjust="spacingAndGlyphs" stroke="#222" stroke-width="0.18">[PTZ] = 2 µg/mL</text>
<line x1="299.30" y1="284.80" x2="319.70" y2="284.80" stroke="#111" stroke-width="0.8" />
<line x1="309.50" y1="284.20" x2="309.50" y2="285.40" stroke="#111" stroke-width="0.7" />
<line x1="304.50" y1="284.20" x2="314.50" y2="284.20" stroke="#111" stroke-width="0.8" />
<line x1="304.50" y1="285.40" x2="314.50" y2="285.40" stroke="#111" stroke-width="0.8" />
<circle cx="306.60" cy="285.50" r="1.5" fill="#000"/>
<circle cx="312.70" cy="284.00" r="1.5" fill="#000"/>
<line x1="330.00" y1="355.50" x2="350.40" y2="355.50" stroke="#22cc22" stroke-width="0.8" />
<polygon points="337.60,354.89 336.15,357.50 339.05,357.50" fill="#22cc22"/>
<polygon points="343.20,353.89 341.75,356.50 344.65,356.50" fill="#22cc22"/>
<line x1="361.00" y1="316.50" x2="381.40" y2="316.50" stroke="#2222ee" stroke-width="0.8" />
<line x1="371.20" y1="312.30" x2="371.20" y2="327.40" stroke="#2222ee" stroke-width="0.7" />
<line x1="366.20" y1="312.30" x2="376.20" y2="312.30" stroke="#2222ee" stroke-width="0.8" />
<line x1="366.20" y1="327.40" x2="376.20" y2="327.40" stroke="#2222ee" stroke-width="0.8" />
<circle cx="371.20" cy="313.30" r="1.2" fill="#1111ee"/>
<circle cx="371.20" cy="321.80" r="1.2" fill="#1111ee"/>
<line x1="391.60" y1="317.70" x2="412.00" y2="317.70" stroke="#ee2222" stroke-width="0.8" />
<circle cx="399.30" cy="318.50" r="1.5" fill="#ee1111"/>
<circle cx="405.10" cy="317.00" r="1.5" fill="#ee1111"/>
<line x1="422.50" y1="360.40" x2="442.90" y2="360.40" stroke="#cc33ee" stroke-width="0.8" />
<line x1="432.70" y1="356.70" x2="432.70" y2="368.20" stroke="#cc33ee" stroke-width="0.7" />
<line x1="427.70" y1="356.70" x2="437.70" y2="356.70" stroke="#cc33ee" stroke-width="0.8" />
<line x1="427.70" y1="368.20" x2="437.70" y2="368.20" stroke="#cc33ee" stroke-width="0.8" />
<rect x="431.30" y="356.00" width="2.8" height="2.8" fill="#cc22ee"/>
<rect x="431.30" y="363.40" width="2.8" height="2.8" fill="#cc22ee"/>
<text x="475.30" y="153.80" font-size="12" text-anchor="start" font-weight="bold" fill="#000" >E</text>
<line x1="518.60" y1="165.72" x2="518.60" y2="250.20" stroke="#111" stroke-width="1.5" />
<line x1="515.80" y1="249.50" x2="518.60" y2="249.50" stroke="#111" stroke-width="0.9" />
<text x="514.80" y="251.40" font-size="5.4" text-anchor="end" font-weight="bold" fill="#000" >0.0</text>
<line x1="515.80" y1="228.68" x2="518.60" y2="228.68" stroke="#111" stroke-width="0.9" />
<text x="514.80" y="230.58" font-size="5.4" text-anchor="end" font-weight="bold" fill="#000" >0.2</text>
<line x1="515.80" y1="207.86" x2="518.60" y2="207.86" stroke="#111" stroke-width="0.9" />
<text x="514.80" y="209.76" font-size="5.4" text-anchor="end" font-weight="bold" fill="#000" >0.4</text>
<line x1="515.80" y1="187.04" x2="518.60" y2="187.04" stroke="#111" stroke-width="0.9" />
<text x="514.80" y="188.94" font-size="5.4" text-anchor="end" font-weight="bold" fill="#000" >0.6</text>
<line x1="515.80" y1="166.22" x2="518.60" y2="166.22" stroke="#111" stroke-width="0.9" />
<text x="514.80" y="168.12" font-size="5.4" text-anchor="end" font-weight="bold" fill="#000" >0.8</text>
<line x1="518.60" y1="249.50" x2="683.80" y2="249.50" stroke="#111" stroke-width="1.4" />
<line x1="538.50" y1="249.50" x2="538.50" y2="252.70" stroke="#111" stroke-width="1.0" />
<text x="538.50" y="259.50" font-size="6.0" text-anchor="middle" font-weight="bold" fill="#000"  textLength="25.2" lengthAdjust="spacingAndGlyphs">Untreated</text>
<line x1="569.50" y1="249.50" x2="569.50" y2="252.70" stroke="#111" stroke-width="1.0" />
<text x="569.50" y="259.50" font-size="6.0" text-anchor="middle" font-weight="bold" fill="#000"  textLength="24.5" lengthAdjust="spacingAndGlyphs">Cocktail 1</text>
<line x1="600.50" y1="249.50" x2="600.50" y2="252.70" stroke="#111" stroke-width="1.0" />
<text x="600.50" y="259.50" font-size="6.0" text-anchor="middle" font-weight="bold" fill="#000"  textLength="24.5" lengthAdjust="spacingAndGlyphs">Cocktail 2</text>
<line x1="631.50" y1="249.50" x2="631.50" y2="252.70" stroke="#111" stroke-width="1.0" />
<text x="631.50" y="259.50" font-size="6.0" text-anchor="middle" font-weight="bold" fill="#000"  textLength="24.5" lengthAdjust="spacingAndGlyphs">Cocktail 3</text>
<line x1="662.50" y1="249.50" x2="662.50" y2="252.70" stroke="#111" stroke-width="1.0" />
<text x="662.50" y="259.50" font-size="6.0" text-anchor="middle" font-weight="bold" fill="#000"  textLength="24.5" lengthAdjust="spacingAndGlyphs">Cocktail 4</text>
<text transform="translate(497.4,204.0) rotate(-90)" font-size="6.6" font-weight="bold" text-anchor="middle">Crystal Violet (OD<tspan font-size="4.6" dy="1.5">595</tspan><tspan dy="-1.5">)</tspan></text>
<line x1="528.50" y1="176.40" x2="549.00" y2="176.40" stroke="#111" stroke-width="0.8" />
<line x1="533.50" y1="174.30" x2="543.70" y2="174.30" stroke="#111" stroke-width="0.6" />
<line x1="533.50" y1="178.50" x2="543.70" y2="178.50" stroke="#111" stroke-width="0.6" />
<circle cx="529.60" cy="174.90" r="1.35" fill="#111"/>
<circle cx="529.60" cy="179.20" r="1.35" fill="#111"/>
<circle cx="541.50" cy="174.00" r="1.35" fill="#111"/>
<circle cx="541.50" cy="178.80" r="1.35" fill="#111"/>
<circle cx="547.20" cy="173.00" r="1.35" fill="#111"/>
<circle cx="547.20" cy="177.20" r="1.35" fill="#111"/>
<circle cx="538.50" cy="176.40" r="1.35" fill="#111"/>
<line x1="559.00" y1="224.30" x2="580.00" y2="224.30" stroke="#3aa2b3" stroke-width="0.8" />
<line x1="569.50" y1="220.40" x2="569.50" y2="227.60" stroke="#3aa2b3" stroke-width="0.6" />
<line x1="564.50" y1="220.40" x2="574.50" y2="220.40" stroke="#3aa2b3" stroke-width="0.6" />
<line x1="564.50" y1="227.60" x2="574.50" y2="227.60" stroke="#3aa2b3" stroke-width="0.6" />
<rect x="568.05" y="216.45" width="2.9" height="2.9" fill="#3aa2b3"/>
<rect x="562.05" y="221.55" width="2.9" height="2.9" fill="#3aa2b3"/>
<rect x="568.05" y="222.85" width="2.9" height="2.9" fill="#3aa2b3"/>
<rect x="574.05" y="221.55" width="2.9" height="2.9" fill="#3aa2b3"/>
<rect x="562.05" y="226.15" width="2.9" height="2.9" fill="#3aa2b3"/>
<rect x="574.05" y="226.15" width="2.9" height="2.9" fill="#3aa2b3"/>
<line x1="590.00" y1="219.40" x2="611.00" y2="219.40" stroke="#3aad6c" stroke-width="0.8" />
<line x1="600.50" y1="217.60" x2="600.50" y2="221.20" stroke="#3aad6c" stroke-width="0.6" />
<line x1="595.50" y1="217.60" x2="605.50" y2="217.60" stroke="#3aad6c" stroke-width="0.6" />
<line x1="595.50" y1="221.20" x2="605.50" y2="221.20" stroke="#3aad6c" stroke-width="0.6" />
<polygon points="591.50,218.36 589.90,221.24 593.10,221.24" fill="#3aad6c"/>
<polygon points="596.50,217.76 594.90,220.64 598.10,220.64" fill="#3aad6c"/>
<polygon points="600.50,218.16 598.90,221.04 602.10,221.04" fill="#3aad6c"/>
<polygon points="604.50,217.56 602.90,220.44 606.10,220.44" fill="#3aad6c"/>
<polygon points="609.00,214.96 607.40,217.84 610.60,217.84" fill="#3aad6c"/>
<polygon points="609.00,220.16 607.40,223.04 610.60,223.04" fill="#3aad6c"/>
<line x1="621.00" y1="222.00" x2="642.00" y2="222.00" stroke="#c637ea" stroke-width="0.8" />
<line x1="631.50" y1="218.50" x2="631.50" y2="224.90" stroke="#c637ea" stroke-width="0.6" />
<line x1="626.50" y1="218.50" x2="636.50" y2="218.50" stroke="#c637ea" stroke-width="0.6" />
<line x1="626.50" y1="224.90" x2="636.50" y2="224.90" stroke="#c637ea" stroke-width="0.6" />
<polygon points="625.80,219.04 624.20,216.16 627.40,216.16" fill="#c637ea"/>
<polygon points="637.40,219.04 635.80,216.16 639.00,216.16" fill="#c637ea"/>
<polygon points="625.80,222.54 624.20,219.66 627.40,219.66" fill="#c637ea"/>
<polygon points="631.70,224.04 630.10,221.16 633.30,221.16" fill="#c637ea"/>
<polygon points="625.80,226.54 624.20,223.66 627.40,223.66" fill="#c637ea"/>
<polygon points="637.40,225.94 635.80,223.06 639.00,223.06" fill="#c637ea"/>
<line x1="652.00" y1="213.10" x2="673.00" y2="213.10" stroke="#f0702a" stroke-width="0.8" />
<line x1="662.50" y1="208.30" x2="662.50" y2="217.80" stroke="#f0702a" stroke-width="0.6" />
<line x1="657.50" y1="208.30" x2="667.50" y2="208.30" stroke="#f0702a" stroke-width="0.6" />
<line x1="657.50" y1="217.80" x2="667.50" y2="217.80" stroke="#f0702a" stroke-width="0.6" />
<polygon points="659.30,206.60 661.00,208.30 659.30,210.00 657.60,208.30" fill="#f0702a"/>
<polygon points="666.00,206.60 667.70,208.30 666.00,210.00 664.30,208.30" fill="#f0702a"/>
<polygon points="656.70,211.40 658.40,213.10 656.70,214.80 655.00,213.10" fill="#f0702a"/>
<polygon points="662.70,211.80 664.40,213.50 662.70,215.20 661.00,213.50" fill="#f0702a"/>
<polygon points="668.40,212.10 670.10,213.80 668.40,215.50 666.70,213.80" fill="#f0702a"/>
<polygon points="662.70,220.10 664.40,221.80 662.70,223.50 661.00,221.80" fill="#f0702a"/>
<line x1="518.40" y1="283.45" x2="518.40" y2="368.00" stroke="#111" stroke-width="1.8" />
<line x1="515.40" y1="367.40" x2="518.40" y2="367.40" stroke="#111" stroke-width="0.9" />
<text x="514.60" y="369.50" font-size="5.9" text-anchor="end" font-weight="bold">10<tspan font-size="3.89" dx="0.3" dy="-2.66">6</tspan></text>
<line x1="516.10" y1="359.02" x2="518.40" y2="359.02" stroke="#111" stroke-width="0.75" />
<line x1="516.10" y1="354.11" x2="518.40" y2="354.11" stroke="#111" stroke-width="0.75" />
<line x1="516.10" y1="350.63" x2="518.40" y2="350.63" stroke="#111" stroke-width="0.75" />
<line x1="516.10" y1="347.93" x2="518.40" y2="347.93" stroke="#111" stroke-width="0.75" />
<line x1="516.10" y1="345.73" x2="518.40" y2="345.73" stroke="#111" stroke-width="0.75" />
<line x1="516.10" y1="343.86" x2="518.40" y2="343.86" stroke="#111" stroke-width="0.75" />
<line x1="516.10" y1="342.25" x2="518.40" y2="342.25" stroke="#111" stroke-width="0.75" />
<line x1="516.10" y1="340.82" x2="518.40" y2="340.82" stroke="#111" stroke-width="0.75" />
<line x1="515.40" y1="339.55" x2="518.40" y2="339.55" stroke="#111" stroke-width="0.9" />
<text x="514.60" y="341.65" font-size="5.9" text-anchor="end" font-weight="bold">10<tspan font-size="3.89" dx="0.3" dy="-2.66">7</tspan></text>
<line x1="516.10" y1="331.17" x2="518.40" y2="331.17" stroke="#111" stroke-width="0.75" />
<line x1="516.10" y1="326.26" x2="518.40" y2="326.26" stroke="#111" stroke-width="0.75" />
<line x1="516.10" y1="322.78" x2="518.40" y2="322.78" stroke="#111" stroke-width="0.75" />
<line x1="516.10" y1="320.08" x2="518.40" y2="320.08" stroke="#111" stroke-width="0.75" />
<line x1="516.10" y1="317.88" x2="518.40" y2="317.88" stroke="#111" stroke-width="0.75" />
<line x1="516.10" y1="316.01" x2="518.40" y2="316.01" stroke="#111" stroke-width="0.75" />
<line x1="516.10" y1="314.40" x2="518.40" y2="314.40" stroke="#111" stroke-width="0.75" />
<line x1="516.10" y1="312.97" x2="518.40" y2="312.97" stroke="#111" stroke-width="0.75" />
<line x1="515.40" y1="311.70" x2="518.40" y2="311.70" stroke="#111" stroke-width="0.9" />
<text x="514.60" y="313.80" font-size="5.9" text-anchor="end" font-weight="bold">10<tspan font-size="3.89" dx="0.3" dy="-2.66">8</tspan></text>
<line x1="516.10" y1="303.32" x2="518.40" y2="303.32" stroke="#111" stroke-width="0.75" />
<line x1="516.10" y1="298.41" x2="518.40" y2="298.41" stroke="#111" stroke-width="0.75" />
<line x1="516.10" y1="294.93" x2="518.40" y2="294.93" stroke="#111" stroke-width="0.75" />
<line x1="516.10" y1="292.23" x2="518.40" y2="292.23" stroke="#111" stroke-width="0.75" />
<line x1="516.10" y1="290.03" x2="518.40" y2="290.03" stroke="#111" stroke-width="0.75" />
<line x1="516.10" y1="288.16" x2="518.40" y2="288.16" stroke="#111" stroke-width="0.75" />
<line x1="516.10" y1="286.55" x2="518.40" y2="286.55" stroke="#111" stroke-width="0.75" />
<line x1="516.10" y1="285.12" x2="518.40" y2="285.12" stroke="#111" stroke-width="0.75" />
<line x1="515.40" y1="283.85" x2="518.40" y2="283.85" stroke="#111" stroke-width="0.9" />
<text x="514.60" y="285.95" font-size="5.9" text-anchor="end" font-weight="bold">10<tspan font-size="3.89" dx="0.3" dy="-2.66">9</tspan></text>
<line x1="518.40" y1="367.40" x2="684.50" y2="367.40" stroke="#111" stroke-width="1.4" />
<line x1="538.50" y1="367.40" x2="538.50" y2="370.60" stroke="#111" stroke-width="1.0" />
<text x="538.50" y="377.70" font-size="6.0" text-anchor="middle" font-weight="bold" fill="#000"  textLength="25.2" lengthAdjust="spacingAndGlyphs">Untreated</text>
<line x1="569.50" y1="367.40" x2="569.50" y2="370.60" stroke="#111" stroke-width="1.0" />
<text x="569.50" y="377.70" font-size="6.0" text-anchor="middle" font-weight="bold" fill="#000"  textLength="24.5" lengthAdjust="spacingAndGlyphs">Cocktail 1</text>
<line x1="600.50" y1="367.40" x2="600.50" y2="370.60" stroke="#111" stroke-width="1.0" />
<text x="600.50" y="377.70" font-size="6.0" text-anchor="middle" font-weight="bold" fill="#000"  textLength="24.5" lengthAdjust="spacingAndGlyphs">Cocktail 2</text>
<line x1="631.50" y1="367.40" x2="631.50" y2="370.60" stroke="#111" stroke-width="1.0" />
<text x="631.50" y="377.70" font-size="6.0" text-anchor="middle" font-weight="bold" fill="#000"  textLength="24.5" lengthAdjust="spacingAndGlyphs">Cocktail 3</text>
<line x1="662.50" y1="367.40" x2="662.50" y2="370.60" stroke="#111" stroke-width="1.0" />
<text x="662.50" y="377.70" font-size="6.0" text-anchor="middle" font-weight="bold" fill="#000"  textLength="24.5" lengthAdjust="spacingAndGlyphs">Cocktail 4</text>
<text transform="translate(497.8,325.0) rotate(-90)" font-size="6.6" font-weight="bold" text-anchor="middle" textLength="56" lengthAdjust="spacing">Viability (cfu/mL)</text>
<line x1="528.50" y1="298.90" x2="549.20" y2="298.90" stroke="#111" stroke-width="0.8" />
<line x1="539.00" y1="292.60" x2="539.00" y2="313.40" stroke="#111" stroke-width="0.6" />
<line x1="534.00" y1="292.60" x2="544.00" y2="292.60" stroke="#111" stroke-width="0.6" />
<line x1="534.00" y1="313.40" x2="544.00" y2="313.40" stroke="#111" stroke-width="0.6" />
<circle cx="539.20" cy="289.50" r="1.7" fill="#111"/>
<circle cx="536.20" cy="296.90" r="1.7" fill="#111"/>
<circle cx="541.80" cy="296.90" r="1.7" fill="#111"/>
<circle cx="533.10" cy="309.70" r="1.7" fill="#111"/>
<circle cx="539.20" cy="307.40" r="1.7" fill="#111"/>
<circle cx="544.60" cy="308.50" r="1.7" fill="#111"/>
<line x1="559.00" y1="341.20" x2="580.00" y2="341.20" stroke="#3aa2b3" stroke-width="0.8" />
<line x1="569.50" y1="337.30" x2="569.50" y2="347.60" stroke="#3aa2b3" stroke-width="0.6" />
<line x1="564.20" y1="337.30" x2="574.80" y2="337.30" stroke="#3aa2b3" stroke-width="0.6" />
<line x1="564.20" y1="347.60" x2="574.80" y2="347.60" stroke="#3aa2b3" stroke-width="0.6" />
<rect x="571.05" y="333.85" width="2.9" height="2.9" fill="#3aa2b3"/>
<rect x="565.05" y="336.35" width="2.9" height="2.9" fill="#3aa2b3"/>
<rect x="571.05" y="338.75" width="2.9" height="2.9" fill="#3aa2b3"/>
<rect x="565.05" y="341.75" width="2.9" height="2.9" fill="#3aa2b3"/>
<rect x="571.05" y="344.35" width="2.9" height="2.9" fill="#3aa2b3"/>
<rect x="568.35" y="349.05" width="2.9" height="2.9" fill="#3aa2b3"/>
<line x1="590.00" y1="340.90" x2="611.00" y2="340.90" stroke="#3aad6c" stroke-width="0.8" />
<line x1="600.50" y1="337.30" x2="600.50" y2="346.20" stroke="#3aad6c" stroke-width="0.6" />
<line x1="595.20" y1="337.30" x2="605.80" y2="337.30" stroke="#3aad6c" stroke-width="0.6" />
<line x1="595.20" y1="346.20" x2="605.80" y2="346.20" stroke="#3aad6c" stroke-width="0.6" />
<polygon points="600.50,333.06 598.90,335.94 602.10,335.94" fill="#3aad6c"/>
<polygon points="600.50,338.56 598.90,341.44 602.10,341.44" fill="#3aad6c"/>
<polygon points="600.50,342.06 598.90,344.94 602.10,344.94" fill="#3aad6c"/>
<polygon points="595.00,340.36 593.40,343.24 596.60,343.24" fill="#3aad6c"/>
<polygon points="606.50,341.06 604.90,343.94 608.10,343.94" fill="#3aad6c"/>
<polygon points="600.50,347.06 598.90,349.94 602.10,349.94" fill="#3aad6c"/>
<line x1="621.00" y1="341.10" x2="642.00" y2="341.10" stroke="#c637ea" stroke-width="0.8" />
<line x1="631.50" y1="339.70" x2="631.50" y2="344.90" stroke="#c637ea" stroke-width="0.6" />
<line x1="626.20" y1="339.70" x2="636.80" y2="339.70" stroke="#c637ea" stroke-width="0.6" />
<line x1="626.20" y1="344.90" x2="636.80" y2="344.90" stroke="#c637ea" stroke-width="0.6" />
<polygon points="631.50,338.34 629.90,335.46 633.10,335.46" fill="#c637ea"/>
<polygon points="637.20,339.04 635.60,336.16 638.80,336.16" fill="#c637ea"/>
<polygon points="625.40,341.14 623.80,338.26 627.00,338.26" fill="#c637ea"/>
<polygon points="631.50,343.54 629.90,340.66 633.10,340.66" fill="#c637ea"/>
<polygon points="637.20,343.54 635.60,340.66 638.80,340.66" fill="#c637ea"/>
<polygon points="631.50,348.04 629.90,345.16 633.10,345.16" fill="#c637ea"/>
<line x1="652.00" y1="337.30" x2="672.40" y2="337.30" stroke="#f0702a" stroke-width="0.8" />
<line x1="656.70" y1="335.20" x2="667.20" y2="335.20" stroke="#f0702a" stroke-width="0.7" />
<line x1="656.70" y1="339.20" x2="667.20" y2="339.20" stroke="#f0702a" stroke-width="0.7" />
<line x1="656.90" y1="335.20" x2="656.90" y2="339.20" stroke="#f0702a" stroke-width="0.7" />
<line x1="662.00" y1="335.20" x2="662.00" y2="339.20" stroke="#f0702a" stroke-width="0.7" />
<line x1="667.00" y1="335.20" x2="667.00" y2="339.20" stroke="#f0702a" stroke-width="0.7" />
<circle cx="662.00" cy="334.00" r="1.45" fill="#f0702a"/>
<circle cx="653.00" cy="338.60" r="1.45" fill="#f0702a"/>
<circle cx="671.20" cy="339.60" r="1.45" fill="#f0702a"/>
</svg>
</body></html>
